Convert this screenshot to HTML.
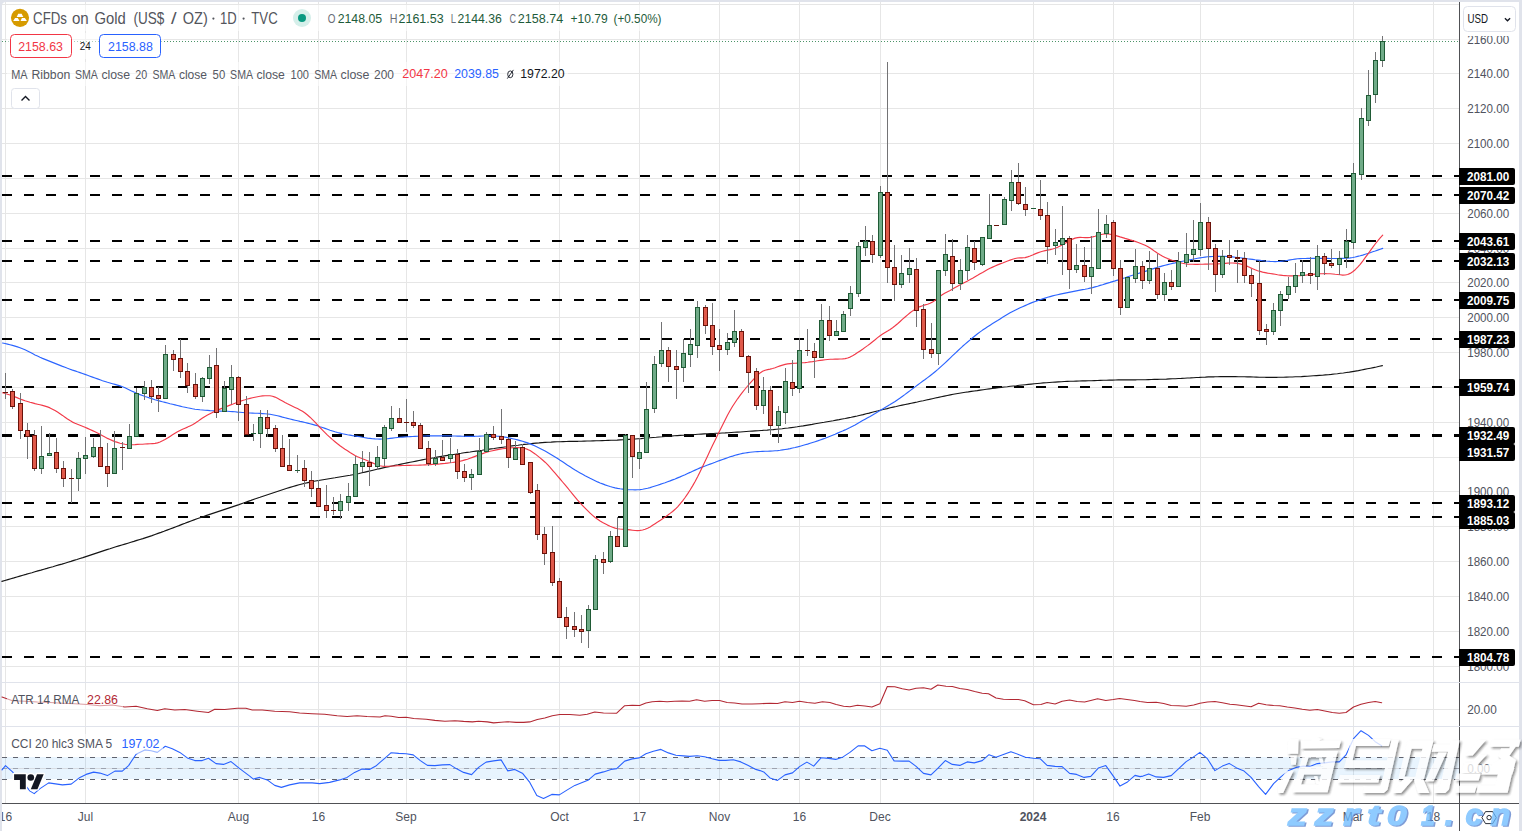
<!DOCTYPE html>
<html><head><meta charset="utf-8"><title>Gold chart</title>
<style>
html,body{margin:0;padding:0;background:#fff;}
body{width:1522px;height:831px;overflow:hidden;position:relative;font-family:"Liberation Sans",sans-serif;}
svg{position:absolute;left:0;top:0;display:block;}
text{font-family:"Liberation Sans",sans-serif;}
</style></head><body>
<svg width="1522" height="831" viewBox="0 0 1522 831">
<rect x="0" y="0" width="1522" height="831" fill="#e0e3eb"/>
<path d="M2 831 V6 a4 4 0 0 1 4 -4 H1515 a4 4 0 0 1 4 4 V831 Z" fill="#fff"/>
<g shape-rendering="crispEdges" stroke="#e6e6e6" stroke-width="1">
<line x1="5.5" y1="2" x2="5.5" y2="803"/><line x1="85.5" y1="2" x2="85.5" y2="803"/><line x1="238.5" y1="2" x2="238.5" y2="803"/><line x1="318.5" y1="2" x2="318.5" y2="803"/><line x1="406.5" y1="2" x2="406.5" y2="803"/><line x1="559.5" y1="2" x2="559.5" y2="803"/><line x1="639.5" y1="2" x2="639.5" y2="803"/><line x1="719.5" y1="2" x2="719.5" y2="803"/><line x1="799.5" y1="2" x2="799.5" y2="803"/><line x1="880.5" y1="2" x2="880.5" y2="803"/><line x1="1033.5" y1="2" x2="1033.5" y2="803"/><line x1="1113.5" y1="2" x2="1113.5" y2="803"/><line x1="1200.5" y1="2" x2="1200.5" y2="803"/><line x1="1353.5" y1="2" x2="1353.5" y2="803"/><line x1="1433.5" y1="2" x2="1433.5" y2="803"/>
<line x1="2" y1="4.5" x2="1459" y2="4.5"/><line x1="2" y1="39.5" x2="1459" y2="39.5"/><line x1="2" y1="73.5" x2="1459" y2="73.5"/><line x1="2" y1="108.5" x2="1459" y2="108.5"/><line x1="2" y1="143.5" x2="1459" y2="143.5"/><line x1="2" y1="178.5" x2="1459" y2="178.5"/><line x1="2" y1="213.5" x2="1459" y2="213.5"/><line x1="2" y1="248.5" x2="1459" y2="248.5"/><line x1="2" y1="282.5" x2="1459" y2="282.5"/><line x1="2" y1="317.5" x2="1459" y2="317.5"/><line x1="2" y1="352.5" x2="1459" y2="352.5"/><line x1="2" y1="387.5" x2="1459" y2="387.5"/><line x1="2" y1="422.5" x2="1459" y2="422.5"/><line x1="2" y1="457.5" x2="1459" y2="457.5"/><line x1="2" y1="491.5" x2="1459" y2="491.5"/><line x1="2" y1="526.5" x2="1459" y2="526.5"/><line x1="2" y1="561.5" x2="1459" y2="561.5"/><line x1="2" y1="596.5" x2="1459" y2="596.5"/><line x1="2" y1="631.5" x2="1459" y2="631.5"/><line x1="2" y1="666.5" x2="1459" y2="666.5"/><line x1="2" y1="709.5" x2="1459" y2="709.5"/>
</g>
<rect x="2" y="757" width="1457" height="22" fill="#2196f3" fill-opacity="0.1" shape-rendering="crispEdges"/>
<line x1="2" y1="768.5" x2="1459" y2="768.5" stroke="#d9dde3" stroke-width="1" shape-rendering="crispEdges"/><g shape-rendering="crispEdges" stroke-width="1" stroke-dasharray="5 6"><line x1="2" y1="757.5" x2="1459" y2="757.5" stroke="#60636e"/><line x1="2" y1="768.5" x2="1459" y2="768.5" stroke="#9ea3b0"/><line x1="2" y1="779.5" x2="1459" y2="779.5" stroke="#60636e"/></g>
<line x1="2" y1="41.5" x2="1459" y2="41.5" stroke="#4c9468" stroke-width="1" stroke-dasharray="1 2" shape-rendering="crispEdges"/>
<g shape-rendering="crispEdges" stroke="#000" stroke-width="2" stroke-dasharray="10 12"><line x1="2" y1="176" x2="1459" y2="176"/><line x1="2" y1="195" x2="1459" y2="195"/><line x1="2" y1="241" x2="1459" y2="241"/><line x1="2" y1="261" x2="1459" y2="261"/><line x1="2" y1="300" x2="1459" y2="300"/><line x1="2" y1="339" x2="1459" y2="339"/><line x1="2" y1="387" x2="1459" y2="387"/><line x1="2" y1="435" x2="1459" y2="435"/><line x1="2" y1="436" x2="1459" y2="436"/><line x1="2" y1="503" x2="1459" y2="503"/><line x1="2" y1="517" x2="1459" y2="517"/><line x1="2" y1="657" x2="1459" y2="657"/></g>
<polyline points="1.9,581.4 4.9,580.5 7.9,579.6 10.9,578.7 13.9,577.9 16.9,577.0 19.9,576.1 22.9,575.2 25.9,574.4 28.9,573.5 31.9,572.7 34.9,571.8 37.9,570.9 40.9,570.1 43.9,569.2 46.9,568.4 49.9,567.5 52.9,566.7 55.9,565.8 58.9,564.9 61.9,564.1 64.9,563.2 67.9,562.3 70.9,561.4 73.9,560.4 76.9,559.5 79.9,558.5 82.9,557.6 85.9,556.6 88.9,555.6 91.9,554.6 94.9,553.6 97.9,552.6 100.9,551.6 103.9,550.6 106.9,549.6 109.9,548.7 112.9,547.7 115.9,546.8 118.9,545.9 121.9,545.0 124.9,544.1 127.9,543.2 130.9,542.3 133.9,541.4 136.9,540.4 139.9,539.5 142.9,538.6 145.9,537.6 149.0,536.6 152.0,535.6 155.0,534.5 158.0,533.4 161.0,532.4 164.0,531.3 167.0,530.1 170.0,529.0 173.0,527.9 176.0,526.7 179.0,525.6 182.0,524.4 185.0,523.3 188.0,522.1 191.0,521.0 194.0,519.9 197.0,518.8 200.0,517.7 203.0,516.7 206.0,515.6 209.0,514.6 212.0,513.6 215.0,512.6 218.0,511.6 221.0,510.6 224.0,509.6 227.0,508.6 230.0,507.6 233.0,506.6 236.0,505.6 239.0,504.6 242.0,503.5 245.0,502.5 248.0,501.4 251.0,500.4 254.0,499.3 257.0,498.3 260.0,497.3 263.0,496.2 266.0,495.2 269.0,494.2 272.0,493.2 275.0,492.2 278.0,491.2 281.0,490.2 284.0,489.2 287.0,488.3 290.0,487.4 293.0,486.5 296.0,485.6 299.0,484.8 302.0,484.0 305.0,483.3 308.0,482.6 311.0,481.9 314.0,481.3 317.0,480.7 320.0,480.2 323.0,479.7 326.0,479.2 329.0,478.7 332.0,478.2 335.0,477.8 338.0,477.3 341.0,476.8 344.0,476.3 347.0,475.8 350.0,475.3 353.0,474.7 356.0,474.1 359.0,473.5 362.0,472.8 365.0,472.1 368.0,471.4 371.0,470.7 374.0,470.0 377.0,469.3 380.0,468.6 383.0,467.9 386.0,467.3 389.0,466.6 392.0,466.0 395.0,465.4 398.0,464.8 401.1,464.1 404.1,463.5 407.1,462.9 410.1,462.3 413.1,461.7 416.1,461.1 419.1,460.5 422.1,459.9 425.1,459.3 428.1,458.8 431.1,458.2 434.1,457.7 437.1,457.1 440.1,456.6 443.1,456.1 446.1,455.6 449.1,455.1 452.1,454.7 455.1,454.2 458.1,453.7 461.1,453.3 464.1,452.8 467.1,452.4 470.1,452.0 473.1,451.5 476.1,451.1 479.1,450.7 482.1,450.3 485.1,449.8 488.1,449.4 491.1,448.9 494.1,448.5 497.1,448.0 500.1,447.6 503.1,447.2 506.1,446.8 509.1,446.3 512.1,445.9 515.1,445.5 518.1,445.2 521.1,444.8 524.1,444.4 527.1,444.1 530.1,443.7 533.1,443.4 536.1,443.1 539.1,442.9 542.1,442.6 545.1,442.4 548.1,442.2 551.1,442.1 554.1,441.9 557.1,441.8 560.1,441.7 563.1,441.6 566.1,441.5 569.1,441.4 572.1,441.4 575.1,441.3 578.1,441.3 581.1,441.2 584.1,441.1 587.1,441.0 590.1,441.0 593.1,440.9 596.1,440.8 599.1,440.7 602.1,440.6 605.1,440.5 608.1,440.4 611.1,440.3 614.1,440.2 617.1,440.1 620.1,439.9 623.1,439.8 626.1,439.6 629.1,439.4 632.1,439.2 635.1,439.0 638.1,438.8 641.1,438.6 644.1,438.3 647.1,438.1 650.1,437.8 653.2,437.5 656.2,437.3 659.2,437.0 662.2,436.8 665.2,436.5 668.2,436.3 671.2,436.1 674.2,435.8 677.2,435.6 680.2,435.4 683.2,435.2 686.2,435.0 689.2,434.8 692.2,434.7 695.2,434.5 698.2,434.3 701.2,434.1 704.2,433.9 707.2,433.8 710.2,433.6 713.2,433.5 716.2,433.3 719.2,433.2 722.2,433.0 725.2,432.9 728.2,432.7 731.2,432.5 734.2,432.3 737.2,432.1 740.2,432.0 743.2,431.7 746.2,431.5 749.2,431.3 752.2,431.1 755.2,430.9 758.2,430.7 761.2,430.5 764.2,430.3 767.2,430.1 770.2,429.8 773.2,429.6 776.2,429.3 779.2,429.0 782.2,428.7 785.2,428.3 788.2,428.0 791.2,427.6 794.2,427.2 797.2,426.8 800.2,426.3 803.2,425.9 806.2,425.4 809.2,424.9 812.2,424.4 815.2,423.8 818.2,423.3 821.2,422.8 824.2,422.3 827.2,421.7 830.2,421.2 833.2,420.7 836.2,420.1 839.2,419.6 842.2,419.0 845.2,418.5 848.2,417.9 851.2,417.3 854.2,416.6 857.2,416.0 860.2,415.3 863.2,414.6 866.2,413.8 869.2,413.1 872.2,412.3 875.2,411.5 878.2,410.8 881.2,410.0 884.2,409.3 887.2,408.6 890.2,407.8 893.2,407.1 896.2,406.5 899.2,405.8 902.2,405.1 905.3,404.5 908.3,403.9 911.3,403.2 914.3,402.6 917.3,402.0 920.3,401.3 923.3,400.7 926.3,400.0 929.3,399.4 932.3,398.7 935.3,398.0 938.3,397.4 941.3,396.7 944.3,396.1 947.3,395.5 950.3,394.9 953.3,394.3 956.3,393.8 959.3,393.3 962.3,392.8 965.3,392.3 968.3,391.9 971.3,391.4 974.3,391.0 977.3,390.6 980.3,390.1 983.3,389.7 986.3,389.3 989.3,388.9 992.3,388.5 995.3,388.1 998.3,387.8 1001.3,387.4 1004.3,387.0 1007.3,386.7 1010.3,386.3 1013.3,386.0 1016.3,385.7 1019.3,385.3 1022.3,385.0 1025.3,384.7 1028.3,384.4 1031.3,384.1 1034.3,383.8 1037.3,383.5 1040.3,383.2 1043.3,382.9 1046.3,382.7 1049.3,382.5 1052.3,382.3 1055.3,382.1 1058.3,381.9 1061.3,381.7 1064.3,381.5 1067.3,381.4 1070.3,381.3 1073.3,381.2 1076.3,381.1 1079.3,381.0 1082.3,380.9 1085.3,380.9 1088.3,380.8 1091.3,380.7 1094.3,380.6 1097.3,380.5 1100.3,380.4 1103.3,380.3 1106.3,380.2 1109.3,380.1 1112.3,380.1 1115.3,380.0 1118.3,379.9 1121.3,379.9 1124.3,379.9 1127.3,379.8 1130.3,379.8 1133.3,379.8 1136.3,379.8 1139.3,379.7 1142.3,379.7 1145.3,379.7 1148.3,379.6 1151.3,379.5 1154.3,379.4 1157.4,379.4 1160.4,379.3 1163.4,379.2 1166.4,379.1 1169.4,378.9 1172.4,378.8 1175.4,378.7 1178.4,378.5 1181.4,378.4 1184.4,378.2 1187.4,378.0 1190.4,377.9 1193.4,377.7 1196.4,377.5 1199.4,377.4 1202.4,377.2 1205.4,377.1 1208.4,376.9 1211.4,376.8 1214.4,376.8 1217.4,376.7 1220.4,376.6 1223.4,376.6 1226.4,376.6 1229.4,376.6 1232.4,376.6 1235.4,376.6 1238.4,376.7 1241.4,376.7 1244.4,376.8 1247.4,376.9 1250.4,376.9 1253.4,377.0 1256.4,377.1 1259.4,377.2 1262.4,377.2 1265.4,377.3 1268.4,377.3 1271.4,377.3 1274.4,377.3 1277.4,377.3 1280.4,377.2 1283.4,377.2 1286.4,377.1 1289.4,377.0 1292.4,377.0 1295.4,376.8 1298.4,376.7 1301.4,376.6 1304.4,376.4 1307.4,376.2 1310.4,376.0 1313.4,375.8 1316.4,375.6 1319.4,375.4 1322.4,375.2 1325.4,374.9 1328.4,374.7 1331.4,374.4 1334.4,374.0 1337.4,373.7 1340.4,373.3 1343.4,373.0 1346.4,372.5 1349.4,372.1 1352.4,371.6 1355.4,371.1 1358.4,370.6 1361.4,370.0 1364.4,369.4 1367.4,368.8 1370.4,368.2 1373.4,367.6 1376.4,367.0 1379.4,366.3 1382.4,365.6" fill="none" stroke="#141414" stroke-width="1.15" stroke-linejoin="round" stroke-linecap="round" />
<polyline points="2.5,343.0 5.0,343.5 7.5,344.1 10.0,344.7 12.5,345.4 15.0,346.1 17.5,346.9 20.0,347.7 22.5,348.7 25.0,349.8 27.5,351.0 30.0,352.3 32.5,353.6 35.0,354.9 37.5,356.1 40.0,357.3 42.5,358.4 45.0,359.4 47.5,360.4 50.0,361.4 52.5,362.4 55.0,363.4 57.5,364.4 60.0,365.4 62.5,366.4 65.0,367.3 67.5,368.3 70.0,369.2 72.5,370.1 75.0,370.9 77.5,371.8 80.0,372.6 82.5,373.5 85.0,374.4 87.5,375.3 90.0,376.2 92.5,377.1 95.0,378.0 97.5,378.9 100.0,379.8 102.5,380.7 105.0,381.5 107.5,382.3 110.0,383.0 112.5,383.7 115.0,384.4 117.5,385.1 120.0,385.9 122.5,386.8 125.0,387.8 127.5,389.0 130.0,390.2 132.5,391.4 135.0,392.5 137.5,393.6 140.0,394.6 142.5,395.5 145.0,396.5 147.5,397.3 150.0,398.1 152.5,398.9 155.0,399.7 157.5,400.4 160.0,401.1 162.5,401.8 165.0,402.4 167.5,403.0 170.0,403.7 172.5,404.3 175.0,404.9 177.5,405.5 180.0,406.1 182.5,406.7 185.0,407.2 187.5,407.8 190.0,408.3 192.5,408.8 195.0,409.2 197.5,409.5 200.0,409.8 202.5,410.0 205.0,410.2 207.5,410.4 210.0,410.6 212.5,410.7 215.0,410.9 217.5,411.0 220.0,411.1 222.5,411.2 225.0,411.2 227.5,411.3 230.0,411.5 232.5,411.6 235.0,411.8 237.5,412.1 240.0,412.3 242.5,412.5 245.0,412.7 247.5,412.9 250.0,413.0 252.5,413.1 255.0,413.2 257.5,413.3 260.0,413.4 262.5,413.6 265.0,413.8 267.5,414.0 270.0,414.3 272.5,414.8 275.0,415.3 277.5,415.8 280.0,416.4 282.5,417.1 285.0,417.7 287.5,418.4 290.0,419.0 292.5,419.6 295.0,420.2 297.5,420.8 300.0,421.4 302.5,421.9 305.0,422.5 307.5,423.1 310.0,423.7 312.5,424.4 315.0,425.1 317.5,425.8 320.0,426.7 322.5,427.5 325.0,428.4 327.5,429.3 330.0,430.2 332.5,431.0 335.0,431.8 337.5,432.5 340.0,433.1 342.5,433.7 345.0,434.2 347.5,434.7 350.0,435.1 352.5,435.6 355.0,436.0 357.5,436.4 360.0,436.8 362.5,437.3 365.0,437.7 367.5,438.1 370.0,438.4 372.5,438.7 375.0,438.9 377.5,439.0 380.0,439.1 382.5,439.0 385.0,438.9 387.5,438.7 390.0,438.4 392.5,438.1 395.0,437.8 397.5,437.5 400.0,437.3 402.5,437.1 405.0,436.9 407.5,436.8 410.0,436.6 412.5,436.5 415.0,436.4 417.5,436.3 420.0,436.2 422.5,436.1 425.0,436.0 427.5,435.9 430.0,435.9 432.5,435.8 435.0,435.8 437.5,435.8 440.0,435.8 442.5,435.8 445.0,435.8 447.5,435.9 450.0,435.9 452.5,436.0 455.0,436.0 457.5,436.1 460.0,436.1 462.5,436.2 465.0,436.3 467.5,436.3 470.0,436.4 472.5,436.3 475.1,436.3 477.6,436.2 480.1,436.1 482.6,436.0 485.1,436.0 487.6,435.9 490.1,435.9 492.6,436.0 495.1,436.0 497.6,436.2 500.1,436.4 502.6,436.7 505.1,437.1 507.6,437.6 510.1,438.1 512.6,438.7 515.1,439.3 517.6,439.9 520.1,440.6 522.6,441.3 525.1,442.1 527.6,442.9 530.1,443.9 532.6,444.9 535.1,446.0 537.6,447.2 540.1,448.4 542.6,449.7 545.1,451.0 547.6,452.4 550.1,453.9 552.6,455.4 555.1,456.9 557.6,458.5 560.1,460.2 562.6,461.8 565.1,463.5 567.6,465.2 570.1,466.8 572.6,468.4 575.1,470.0 577.6,471.5 580.1,472.9 582.6,474.3 585.1,475.7 587.6,477.0 590.1,478.3 592.6,479.5 595.1,480.7 597.6,481.9 600.1,483.0 602.6,483.9 605.1,484.9 607.6,485.7 610.1,486.5 612.6,487.2 615.1,487.9 617.6,488.4 620.1,488.8 622.6,489.1 625.1,489.4 627.6,489.6 630.1,489.7 632.6,489.8 635.1,489.9 637.6,489.8 640.1,489.6 642.6,489.3 645.1,488.8 647.6,488.3 650.1,487.6 652.6,486.8 655.1,486.0 657.6,485.2 660.1,484.4 662.6,483.5 665.1,482.7 667.6,481.8 670.1,480.9 672.6,479.9 675.1,479.0 677.6,477.9 680.1,476.9 682.6,475.8 685.1,474.7 687.6,473.5 690.1,472.4 692.6,471.2 695.1,470.1 697.6,469.0 700.1,467.9 702.6,466.9 705.1,466.0 707.6,465.0 710.1,464.1 712.6,463.2 715.1,462.3 717.6,461.3 720.1,460.4 722.6,459.5 725.1,458.6 727.6,457.7 730.1,456.8 732.6,456.1 735.1,455.3 737.6,454.6 740.1,454.0 742.6,453.4 745.1,453.0 747.6,452.6 750.1,452.2 752.6,452.0 755.1,451.8 757.6,451.6 760.1,451.5 762.6,451.4 765.1,451.3 767.6,451.2 770.1,451.1 772.6,451.0 775.1,450.8 777.6,450.6 780.1,450.3 782.6,449.9 785.1,449.5 787.6,449.1 790.1,448.6 792.6,448.0 795.1,447.5 797.6,446.9 800.1,446.2 802.6,445.5 805.1,444.8 807.6,444.1 810.1,443.3 812.6,442.5 815.1,441.7 817.6,440.9 820.1,440.0 822.6,439.1 825.1,438.2 827.6,437.2 830.1,436.2 832.6,435.2 835.1,434.2 837.6,433.1 840.1,432.0 842.6,431.0 845.1,429.9 847.6,428.7 850.1,427.5 852.6,426.2 855.1,424.9 857.6,423.5 860.1,422.1 862.6,420.6 865.1,419.2 867.6,417.8 870.1,416.4 872.6,414.9 875.1,413.5 877.6,412.0 880.1,410.6 882.6,409.1 885.1,407.6 887.6,406.1 890.1,404.6 892.6,403.0 895.1,401.4 897.6,399.7 900.1,398.0 902.6,396.2 905.1,394.4 907.6,392.5 910.1,390.6 912.6,388.8 915.1,386.9 917.6,385.0 920.1,383.1 922.6,381.3 925.1,379.5 927.6,377.6 930.1,375.7 932.6,373.8 935.1,371.7 937.6,369.6 940.1,367.4 942.6,365.1 945.1,362.8 947.6,360.5 950.1,358.1 952.6,355.7 955.1,353.3 957.6,351.0 960.1,348.6 962.6,346.3 965.1,344.1 967.6,342.0 970.1,339.9 972.6,337.8 975.1,335.8 977.6,333.8 980.1,331.9 982.6,330.1 985.1,328.4 987.6,326.8 990.1,325.2 992.6,323.6 995.1,322.0 997.6,320.5 1000.1,318.9 1002.6,317.3 1005.1,315.8 1007.6,314.3 1010.1,312.8 1012.6,311.4 1015.1,310.2 1017.6,309.0 1020.1,307.8 1022.6,306.7 1025.1,305.6 1027.6,304.5 1030.1,303.4 1032.6,302.4 1035.1,301.5 1037.6,300.6 1040.1,299.7 1042.6,298.9 1045.1,298.1 1047.6,297.3 1050.1,296.6 1052.6,295.9 1055.1,295.3 1057.6,294.7 1060.1,294.1 1062.6,293.6 1065.1,293.1 1067.6,292.6 1070.1,292.1 1072.6,291.6 1075.1,291.1 1077.6,290.6 1080.1,290.1 1082.6,289.6 1085.1,289.2 1087.6,288.7 1090.1,288.1 1092.6,287.6 1095.1,286.9 1097.6,286.2 1100.1,285.4 1102.6,284.7 1105.1,283.9 1107.6,283.1 1110.1,282.4 1112.6,281.6 1115.1,280.9 1117.6,280.1 1120.1,279.3 1122.6,278.5 1125.1,277.7 1127.6,276.8 1130.1,276.0 1132.6,275.2 1135.1,274.5 1137.6,273.7 1140.1,272.9 1142.6,272.2 1145.1,271.4 1147.6,270.6 1150.1,269.8 1152.6,268.9 1155.1,268.1 1157.6,267.3 1160.1,266.6 1162.6,265.9 1165.1,265.2 1167.6,264.6 1170.1,264.0 1172.6,263.4 1175.1,262.9 1177.6,262.3 1180.1,261.8 1182.6,261.3 1185.1,260.8 1187.6,260.3 1190.1,259.8 1192.6,259.3 1195.1,258.8 1197.6,258.3 1200.1,257.9 1202.6,257.5 1205.1,257.1 1207.6,256.8 1210.1,256.6 1212.6,256.5 1215.1,256.4 1217.6,256.3 1220.1,256.3 1222.6,256.3 1225.1,256.4 1227.6,256.5 1230.1,256.7 1232.6,256.9 1235.1,257.2 1237.6,257.5 1240.1,257.8 1242.6,258.1 1245.1,258.4 1247.6,258.8 1250.1,259.1 1252.6,259.4 1255.1,259.8 1257.6,260.1 1260.1,260.4 1262.6,260.7 1265.1,261.0 1267.6,261.2 1270.1,261.4 1272.6,261.5 1275.1,261.6 1277.6,261.5 1280.1,261.4 1282.6,261.1 1285.1,260.8 1287.6,260.4 1290.1,259.9 1292.6,259.5 1295.1,259.1 1297.6,258.8 1300.1,258.6 1302.6,258.5 1305.2,258.5 1307.7,258.4 1310.2,258.4 1312.7,258.3 1315.2,258.3 1317.7,258.3 1320.2,258.3 1322.7,258.3 1325.2,258.4 1327.7,258.4 1330.2,258.5 1332.7,258.5 1335.2,258.5 1337.7,258.5 1340.2,258.4 1342.7,258.4 1345.2,258.3 1347.7,258.1 1350.2,257.9 1352.7,257.5 1355.2,257.0 1357.7,256.4 1360.2,255.8 1362.7,255.1 1365.2,254.3 1367.7,253.5 1370.2,252.7 1372.7,251.8 1375.2,251.0 1377.7,250.1 1380.2,249.2 1382.7,248.4" fill="none" stroke="#2c65ff" stroke-width="1.15" stroke-linejoin="round" stroke-linecap="round" />
<polyline points="2.5,392.8 5.0,393.5 7.5,394.2 10.0,395.0 12.5,395.9 15.0,396.9 17.5,397.9 20.0,399.0 22.5,399.9 25.0,400.8 27.5,401.5 30.0,402.3 32.5,402.9 35.0,403.6 37.5,404.2 40.0,404.8 42.5,405.4 45.0,406.1 47.5,406.9 50.0,407.9 52.5,409.2 55.0,410.6 57.5,412.1 60.0,413.7 62.5,415.4 65.0,417.2 67.5,419.0 70.0,420.6 72.5,422.1 75.0,423.2 77.5,424.2 80.0,425.2 82.5,426.2 85.0,427.3 87.5,428.4 90.0,429.5 92.5,430.6 95.0,431.7 97.5,432.9 100.0,434.3 102.5,435.7 105.0,437.1 107.5,438.4 110.0,439.5 112.5,440.6 115.0,441.6 117.5,442.4 120.0,443.2 122.5,443.8 125.0,444.3 127.5,444.7 130.0,444.8 132.5,444.7 135.0,444.6 137.5,444.4 140.0,444.3 142.5,444.2 145.0,444.0 147.5,443.9 150.0,443.8 152.5,443.6 155.0,443.4 157.5,442.9 160.0,442.0 162.5,440.8 165.0,439.5 167.5,438.0 170.0,436.4 172.5,434.8 175.0,433.3 177.5,431.8 180.0,430.5 182.5,429.3 185.0,428.2 187.5,427.1 190.0,425.9 192.5,424.7 195.0,423.2 197.5,421.6 200.0,419.8 202.5,418.0 205.0,416.4 207.5,415.0 210.0,413.7 212.5,412.4 215.0,411.3 217.5,410.2 220.0,409.1 222.5,408.1 225.0,407.1 227.5,406.1 230.0,405.1 232.5,404.2 235.0,403.2 237.5,402.3 240.0,401.4 242.5,400.5 245.0,399.8 247.5,399.0 250.0,398.4 252.5,397.8 255.0,397.2 257.5,396.7 260.0,396.3 262.5,395.9 265.0,395.7 267.5,395.7 270.0,395.8 272.5,396.3 275.0,397.1 277.5,398.3 280.0,399.7 282.5,401.1 285.0,402.5 287.5,403.8 290.0,405.0 292.5,406.2 295.0,407.4 297.5,408.6 300.0,409.9 302.5,411.3 305.0,413.0 307.5,415.0 310.0,417.2 312.5,419.6 315.0,422.2 317.5,424.9 320.0,427.5 322.5,430.1 325.0,432.6 327.5,435.1 330.0,437.4 332.5,439.6 335.0,441.7 337.5,443.8 340.0,445.7 342.5,447.5 345.0,449.2 347.5,450.8 350.0,452.5 352.5,454.0 355.0,455.5 357.5,456.7 360.0,457.8 362.5,458.8 365.0,459.8 367.5,460.8 370.0,461.9 372.5,462.9 375.0,464.0 377.5,465.0 380.0,465.8 382.5,466.2 385.0,466.4 387.5,466.3 390.0,466.2 392.5,466.0 395.0,465.9 397.5,465.7 400.0,465.6 402.5,465.5 405.0,465.5 407.5,465.4 410.0,465.4 412.5,465.3 415.0,465.2 417.5,465.2 420.0,465.1 422.5,465.0 425.0,464.9 427.5,464.8 430.0,464.6 432.5,464.4 435.0,464.3 437.5,464.1 440.0,463.9 442.5,463.6 445.0,463.4 447.5,463.1 450.0,462.8 452.5,462.5 455.0,462.1 457.5,461.7 460.0,461.2 462.5,460.6 465.0,459.9 467.5,459.2 470.0,458.3 472.5,457.4 475.1,456.4 477.6,455.4 480.1,454.5 482.6,453.6 485.1,452.7 487.6,452.0 490.1,451.3 492.6,450.7 495.1,450.1 497.6,449.6 500.1,449.1 502.6,448.7 505.1,448.4 507.6,448.1 510.1,447.9 512.6,447.7 515.1,447.6 517.6,447.6 520.1,447.7 522.6,448.0 525.1,448.5 527.6,449.4 530.1,450.6 532.6,452.2 535.1,453.9 537.6,455.9 540.1,457.9 542.6,460.0 545.1,462.2 547.6,464.7 550.1,467.4 552.6,470.3 555.1,473.2 557.6,476.1 560.1,479.0 562.6,482.0 565.1,484.9 567.6,487.9 570.1,491.0 572.6,494.1 575.1,497.1 577.6,500.1 580.1,502.9 582.6,505.6 585.1,508.2 587.6,510.7 590.1,513.1 592.6,515.4 595.1,517.5 597.6,519.3 600.1,521.0 602.6,522.5 605.1,523.8 607.6,525.1 610.1,526.2 612.6,527.2 615.1,528.1 617.6,528.7 620.1,529.0 622.6,529.2 625.1,529.4 627.6,529.6 630.1,529.9 632.6,530.2 635.1,530.5 637.6,530.6 640.1,530.4 642.6,530.0 645.1,529.3 647.6,528.2 650.1,526.9 652.6,525.3 655.1,523.7 657.6,522.1 660.1,520.4 662.6,518.8 665.1,517.1 667.6,515.3 670.1,513.4 672.6,511.5 675.1,509.3 677.6,506.8 680.1,503.9 682.6,500.8 685.1,497.5 687.6,493.9 690.1,490.0 692.6,485.9 695.1,481.5 697.6,476.8 700.1,471.8 702.6,466.6 705.1,461.3 707.6,455.9 710.1,450.5 712.6,445.3 715.1,440.2 717.6,435.1 720.1,430.0 722.6,424.9 725.1,419.9 727.6,415.0 730.1,410.5 732.6,406.3 735.1,402.5 737.6,398.8 740.1,395.4 742.6,392.1 745.1,389.0 747.6,386.0 750.1,383.1 752.6,380.3 755.1,377.6 757.6,375.0 760.1,372.9 762.6,371.3 765.1,370.2 767.6,369.6 770.1,369.1 772.6,368.5 775.1,367.7 777.6,366.8 780.1,365.9 782.6,365.1 785.1,364.4 787.6,363.9 790.1,363.6 792.6,363.4 795.1,363.2 797.6,363.1 800.1,363.0 802.6,362.8 805.1,362.6 807.6,362.3 810.1,361.9 812.6,361.6 815.1,361.2 817.6,360.8 820.1,360.4 822.6,360.1 825.1,359.8 827.6,359.5 830.1,359.3 832.6,359.2 835.1,359.1 837.6,359.1 840.1,359.0 842.6,358.9 845.1,358.6 847.6,358.0 850.1,357.1 852.6,355.8 855.1,354.3 857.6,352.6 860.1,350.9 862.6,349.2 865.1,347.4 867.6,345.6 870.1,343.7 872.6,341.7 875.1,339.7 877.6,337.6 880.1,335.7 882.6,334.0 885.1,332.5 887.6,331.0 890.1,329.4 892.6,327.7 895.1,325.8 897.6,323.7 900.1,321.5 902.6,319.2 905.1,317.0 907.6,314.9 910.1,312.8 912.6,310.9 915.1,309.2 917.6,307.8 920.1,306.6 922.6,305.7 925.1,304.9 927.6,304.2 930.1,303.3 932.6,301.9 935.1,300.2 937.6,298.2 940.1,296.3 942.6,294.6 945.1,293.1 947.6,291.7 950.1,290.4 952.6,289.0 955.1,287.6 957.6,286.2 960.1,284.8 962.6,283.5 965.1,282.2 967.6,280.9 970.1,279.6 972.6,278.2 975.1,276.7 977.6,275.3 980.1,273.8 982.6,272.4 985.1,270.9 987.6,269.5 990.1,268.2 992.6,267.1 995.1,266.0 997.6,264.9 1000.1,263.9 1002.6,263.0 1005.1,262.0 1007.6,261.0 1010.1,260.1 1012.6,259.3 1015.1,258.5 1017.6,258.0 1020.1,257.8 1022.6,257.8 1025.1,257.6 1027.6,256.9 1030.1,256.0 1032.6,255.0 1035.1,253.9 1037.6,252.9 1040.1,252.0 1042.6,251.3 1045.1,250.6 1047.6,250.1 1050.1,249.6 1052.6,249.0 1055.1,248.3 1057.6,247.3 1060.1,246.1 1062.6,244.8 1065.1,243.3 1067.6,241.9 1070.1,240.4 1072.6,239.1 1075.1,238.1 1077.6,237.6 1080.1,237.4 1082.6,237.5 1085.1,237.6 1087.6,237.6 1090.1,237.4 1092.6,236.9 1095.1,236.2 1097.6,235.4 1100.1,234.8 1102.6,234.2 1105.1,233.9 1107.6,233.9 1110.1,234.2 1112.6,234.7 1115.1,235.4 1117.6,236.1 1120.1,236.9 1122.6,237.6 1125.1,238.4 1127.6,239.1 1130.1,239.9 1132.6,240.6 1135.1,241.4 1137.6,242.3 1140.1,243.2 1142.6,244.2 1145.1,245.3 1147.6,246.6 1150.1,248.1 1152.6,249.8 1155.1,251.6 1157.6,253.3 1160.1,254.8 1162.6,256.2 1165.1,257.4 1167.6,258.6 1170.1,259.6 1172.6,260.5 1175.1,261.3 1177.6,262.1 1180.1,262.7 1182.6,263.3 1185.1,263.8 1187.6,264.1 1190.1,264.2 1192.6,264.3 1195.1,264.4 1197.6,264.4 1200.1,264.3 1202.6,264.2 1205.1,264.1 1207.6,264.1 1210.1,264.0 1212.6,264.0 1215.1,264.0 1217.6,263.9 1220.1,263.8 1222.6,263.6 1225.1,263.4 1227.6,263.1 1230.1,263.0 1232.6,263.0 1235.1,263.1 1237.6,263.4 1240.1,263.9 1242.6,264.6 1245.1,265.4 1247.6,266.4 1250.1,267.6 1252.6,268.7 1255.1,269.8 1257.6,270.7 1260.1,271.4 1262.6,272.1 1265.1,272.6 1267.6,273.1 1270.1,273.5 1272.6,273.9 1275.1,274.3 1277.6,274.8 1280.1,275.1 1282.6,275.4 1285.1,275.6 1287.6,275.8 1290.1,275.8 1292.6,275.9 1295.1,275.8 1297.6,275.7 1300.1,275.6 1302.6,275.4 1305.2,275.2 1307.7,274.9 1310.2,274.7 1312.7,274.4 1315.2,274.1 1317.7,273.9 1320.2,273.8 1322.7,273.7 1325.2,273.6 1327.7,273.7 1330.2,273.8 1332.7,274.0 1335.2,274.3 1337.7,274.5 1340.2,274.8 1342.7,275.1 1345.2,275.0 1347.7,274.5 1350.2,273.4 1352.7,271.8 1355.2,269.7 1357.7,267.2 1360.2,264.3 1362.7,261.1 1365.2,257.7 1367.7,254.3 1370.2,250.8 1372.7,247.4 1375.2,244.0 1377.7,240.8 1380.2,237.9 1382.7,235.2" fill="none" stroke="#f23a49" stroke-width="1.15" stroke-linejoin="round" stroke-linecap="round" />
<g shape-rendering="crispEdges">
<rect x="5" y="373" width="1" height="26" fill="#737375"/><rect x="3" y="392" width="5" height="1" fill="#69120a"/>
<rect x="12" y="389" width="1" height="20" fill="#737375"/><rect x="10" y="391" width="5" height="16" fill="#69120a"/><rect x="11" y="392" width="3" height="14" fill="#e0594a"/>
<rect x="20" y="393" width="1" height="46" fill="#737375"/><rect x="18" y="403" width="5" height="28" fill="#69120a"/><rect x="19" y="404" width="3" height="26" fill="#e0594a"/>
<rect x="27" y="423" width="1" height="36" fill="#737375"/><rect x="25" y="430" width="5" height="7" fill="#69120a"/><rect x="26" y="431" width="3" height="5" fill="#e0594a"/>
<rect x="34" y="430" width="1" height="41" fill="#737375"/><rect x="32" y="435" width="5" height="34" fill="#69120a"/><rect x="33" y="436" width="3" height="32" fill="#e0594a"/>
<rect x="41" y="426" width="1" height="48" fill="#737375"/><rect x="39" y="456" width="5" height="13" fill="#1f5a35"/><rect x="40" y="457" width="3" height="11" fill="#70ab88"/>
<rect x="49" y="433" width="1" height="23" fill="#737375"/><rect x="47" y="453" width="5" height="3" fill="#1f5a35"/><rect x="48" y="454" width="3" height="1" fill="#70ab88"/>
<rect x="56" y="438" width="1" height="35" fill="#737375"/><rect x="54" y="452" width="5" height="17" fill="#69120a"/><rect x="55" y="453" width="3" height="15" fill="#e0594a"/>
<rect x="63" y="461" width="1" height="26" fill="#737375"/><rect x="61" y="468" width="5" height="11" fill="#69120a"/><rect x="62" y="469" width="3" height="9" fill="#e0594a"/>
<rect x="71" y="469" width="1" height="34" fill="#737375"/><rect x="69" y="478" width="5" height="1" fill="#69120a"/>
<rect x="78" y="452" width="1" height="39" fill="#737375"/><rect x="76" y="458" width="5" height="21" fill="#1f5a35"/><rect x="77" y="459" width="3" height="19" fill="#70ab88"/>
<rect x="85" y="437" width="1" height="37" fill="#737375"/><rect x="83" y="455" width="5" height="4" fill="#1f5a35"/><rect x="84" y="456" width="3" height="2" fill="#70ab88"/>
<rect x="93" y="438" width="1" height="20" fill="#737375"/><rect x="91" y="447" width="5" height="10" fill="#1f5a35"/><rect x="92" y="448" width="3" height="8" fill="#70ab88"/>
<rect x="100" y="430" width="1" height="37" fill="#737375"/><rect x="98" y="447" width="5" height="20" fill="#69120a"/><rect x="99" y="448" width="3" height="18" fill="#e0594a"/>
<rect x="107" y="443" width="1" height="44" fill="#737375"/><rect x="105" y="466" width="5" height="8" fill="#69120a"/><rect x="106" y="467" width="3" height="6" fill="#e0594a"/>
<rect x="114" y="431" width="1" height="43" fill="#737375"/><rect x="112" y="448" width="5" height="26" fill="#1f5a35"/><rect x="113" y="449" width="3" height="24" fill="#70ab88"/>
<rect x="122" y="442" width="1" height="28" fill="#737375"/><rect x="120" y="447" width="5" height="1" fill="#69120a"/>
<rect x="129" y="424" width="1" height="25" fill="#737375"/><rect x="127" y="436" width="5" height="13" fill="#1f5a35"/><rect x="128" y="437" width="3" height="11" fill="#70ab88"/>
<rect x="136" y="388" width="1" height="49" fill="#737375"/><rect x="134" y="393" width="5" height="44" fill="#1f5a35"/><rect x="135" y="394" width="3" height="42" fill="#70ab88"/>
<rect x="144" y="381" width="1" height="19" fill="#737375"/><rect x="142" y="387" width="5" height="7" fill="#1f5a35"/><rect x="143" y="388" width="3" height="5" fill="#70ab88"/>
<rect x="151" y="380" width="1" height="23" fill="#737375"/><rect x="149" y="387" width="5" height="10" fill="#69120a"/><rect x="150" y="388" width="3" height="8" fill="#e0594a"/>
<rect x="158" y="387" width="1" height="25" fill="#737375"/><rect x="156" y="395" width="5" height="4" fill="#69120a"/><rect x="157" y="396" width="3" height="2" fill="#e0594a"/>
<rect x="165" y="345" width="1" height="54" fill="#737375"/><rect x="163" y="354" width="5" height="45" fill="#1f5a35"/><rect x="164" y="355" width="3" height="43" fill="#70ab88"/>
<rect x="173" y="350" width="1" height="21" fill="#737375"/><rect x="171" y="354" width="5" height="6" fill="#69120a"/><rect x="172" y="355" width="3" height="4" fill="#e0594a"/>
<rect x="180" y="339" width="1" height="39" fill="#737375"/><rect x="178" y="358" width="5" height="14" fill="#69120a"/><rect x="179" y="359" width="3" height="12" fill="#e0594a"/>
<rect x="187" y="363" width="1" height="30" fill="#737375"/><rect x="185" y="371" width="5" height="15" fill="#69120a"/><rect x="186" y="372" width="3" height="13" fill="#e0594a"/>
<rect x="195" y="373" width="1" height="26" fill="#737375"/><rect x="193" y="384" width="5" height="13" fill="#69120a"/><rect x="194" y="385" width="3" height="11" fill="#e0594a"/>
<rect x="202" y="377" width="1" height="25" fill="#737375"/><rect x="200" y="378" width="5" height="19" fill="#1f5a35"/><rect x="201" y="379" width="3" height="17" fill="#70ab88"/>
<rect x="209" y="355" width="1" height="29" fill="#737375"/><rect x="207" y="367" width="5" height="12" fill="#1f5a35"/><rect x="208" y="368" width="3" height="10" fill="#70ab88"/>
<rect x="216" y="348" width="1" height="70" fill="#737375"/><rect x="214" y="365" width="5" height="48" fill="#69120a"/><rect x="215" y="366" width="3" height="46" fill="#e0594a"/>
<rect x="224" y="381" width="1" height="31" fill="#737375"/><rect x="222" y="388" width="5" height="24" fill="#1f5a35"/><rect x="223" y="389" width="3" height="22" fill="#70ab88"/>
<rect x="231" y="365" width="1" height="39" fill="#737375"/><rect x="229" y="377" width="5" height="13" fill="#1f5a35"/><rect x="230" y="378" width="3" height="11" fill="#70ab88"/>
<rect x="238" y="376" width="1" height="45" fill="#737375"/><rect x="236" y="377" width="5" height="28" fill="#69120a"/><rect x="237" y="378" width="3" height="26" fill="#e0594a"/>
<rect x="246" y="396" width="1" height="39" fill="#737375"/><rect x="244" y="404" width="5" height="31" fill="#69120a"/><rect x="245" y="405" width="3" height="29" fill="#e0594a"/>
<rect x="253" y="424" width="1" height="17" fill="#737375"/><rect x="251" y="433" width="5" height="1" fill="#1f5a35"/>
<rect x="260" y="410" width="1" height="38" fill="#737375"/><rect x="258" y="417" width="5" height="17" fill="#1f5a35"/><rect x="259" y="418" width="3" height="15" fill="#70ab88"/>
<rect x="267" y="410" width="1" height="27" fill="#737375"/><rect x="265" y="417" width="5" height="12" fill="#69120a"/><rect x="266" y="418" width="3" height="10" fill="#e0594a"/>
<rect x="275" y="425" width="1" height="27" fill="#737375"/><rect x="273" y="428" width="5" height="21" fill="#69120a"/><rect x="274" y="429" width="3" height="19" fill="#e0594a"/>
<rect x="282" y="435" width="1" height="32" fill="#737375"/><rect x="280" y="448" width="5" height="19" fill="#69120a"/><rect x="281" y="449" width="3" height="17" fill="#e0594a"/>
<rect x="289" y="439" width="1" height="32" fill="#737375"/><rect x="287" y="465" width="5" height="6" fill="#69120a"/><rect x="288" y="466" width="3" height="4" fill="#e0594a"/>
<rect x="297" y="455" width="1" height="18" fill="#737375"/><rect x="295" y="470" width="5" height="1" fill="#1f5a35"/>
<rect x="304" y="460" width="1" height="27" fill="#737375"/><rect x="302" y="468" width="5" height="13" fill="#69120a"/><rect x="303" y="469" width="3" height="11" fill="#e0594a"/>
<rect x="311" y="471" width="1" height="26" fill="#737375"/><rect x="309" y="480" width="5" height="9" fill="#69120a"/><rect x="310" y="481" width="3" height="7" fill="#e0594a"/>
<rect x="318" y="480" width="1" height="27" fill="#737375"/><rect x="316" y="488" width="5" height="19" fill="#69120a"/><rect x="317" y="489" width="3" height="17" fill="#e0594a"/>
<rect x="326" y="485" width="1" height="33" fill="#737375"/><rect x="324" y="505" width="5" height="6" fill="#69120a"/><rect x="325" y="506" width="3" height="4" fill="#e0594a"/>
<rect x="333" y="497" width="1" height="18" fill="#737375"/><rect x="331" y="510" width="5" height="1" fill="#69120a"/>
<rect x="340" y="494" width="1" height="25" fill="#737375"/><rect x="338" y="501" width="5" height="10" fill="#1f5a35"/><rect x="339" y="502" width="3" height="8" fill="#70ab88"/>
<rect x="348" y="483" width="1" height="28" fill="#737375"/><rect x="346" y="496" width="5" height="7" fill="#1f5a35"/><rect x="347" y="497" width="3" height="5" fill="#70ab88"/>
<rect x="355" y="456" width="1" height="41" fill="#737375"/><rect x="353" y="464" width="5" height="33" fill="#1f5a35"/><rect x="354" y="465" width="3" height="31" fill="#70ab88"/>
<rect x="362" y="451" width="1" height="21" fill="#737375"/><rect x="360" y="462" width="5" height="5" fill="#1f5a35"/><rect x="361" y="463" width="3" height="3" fill="#70ab88"/>
<rect x="369" y="452" width="1" height="34" fill="#737375"/><rect x="367" y="462" width="5" height="5" fill="#69120a"/><rect x="368" y="463" width="3" height="3" fill="#e0594a"/>
<rect x="377" y="446" width="1" height="24" fill="#737375"/><rect x="375" y="457" width="5" height="10" fill="#1f5a35"/><rect x="376" y="458" width="3" height="8" fill="#70ab88"/>
<rect x="384" y="425" width="1" height="41" fill="#737375"/><rect x="382" y="427" width="5" height="32" fill="#1f5a35"/><rect x="383" y="428" width="3" height="30" fill="#70ab88"/>
<rect x="391" y="406" width="1" height="25" fill="#737375"/><rect x="389" y="418" width="5" height="11" fill="#1f5a35"/><rect x="390" y="419" width="3" height="9" fill="#70ab88"/>
<rect x="399" y="408" width="1" height="15" fill="#737375"/><rect x="397" y="418" width="5" height="5" fill="#69120a"/><rect x="398" y="419" width="3" height="3" fill="#e0594a"/>
<rect x="406" y="399" width="1" height="33" fill="#737375"/><rect x="404" y="422" width="5" height="1" fill="#69120a"/>
<rect x="413" y="411" width="1" height="17" fill="#737375"/><rect x="411" y="422" width="5" height="4" fill="#69120a"/><rect x="412" y="423" width="3" height="2" fill="#e0594a"/>
<rect x="420" y="423" width="1" height="26" fill="#737375"/><rect x="418" y="425" width="5" height="24" fill="#69120a"/><rect x="419" y="426" width="3" height="22" fill="#e0594a"/>
<rect x="428" y="441" width="1" height="25" fill="#737375"/><rect x="426" y="448" width="5" height="16" fill="#69120a"/><rect x="427" y="449" width="3" height="14" fill="#e0594a"/>
<rect x="435" y="450" width="1" height="16" fill="#737375"/><rect x="433" y="458" width="5" height="6" fill="#1f5a35"/><rect x="434" y="459" width="3" height="4" fill="#70ab88"/>
<rect x="442" y="440" width="1" height="21" fill="#737375"/><rect x="440" y="457" width="5" height="4" fill="#69120a"/><rect x="441" y="458" width="3" height="2" fill="#e0594a"/>
<rect x="450" y="438" width="1" height="25" fill="#737375"/><rect x="448" y="454" width="5" height="5" fill="#1f5a35"/><rect x="449" y="455" width="3" height="3" fill="#70ab88"/>
<rect x="457" y="449" width="1" height="30" fill="#737375"/><rect x="455" y="454" width="5" height="18" fill="#69120a"/><rect x="456" y="455" width="3" height="16" fill="#e0594a"/>
<rect x="464" y="464" width="1" height="18" fill="#737375"/><rect x="462" y="471" width="5" height="7" fill="#69120a"/><rect x="463" y="472" width="3" height="5" fill="#e0594a"/>
<rect x="471" y="469" width="1" height="21" fill="#737375"/><rect x="469" y="474" width="5" height="4" fill="#1f5a35"/><rect x="470" y="475" width="3" height="2" fill="#70ab88"/>
<rect x="479" y="438" width="1" height="37" fill="#737375"/><rect x="477" y="451" width="5" height="24" fill="#1f5a35"/><rect x="478" y="452" width="3" height="22" fill="#70ab88"/>
<rect x="486" y="432" width="1" height="20" fill="#737375"/><rect x="484" y="434" width="5" height="18" fill="#1f5a35"/><rect x="485" y="435" width="3" height="16" fill="#70ab88"/>
<rect x="493" y="426" width="1" height="14" fill="#737375"/><rect x="491" y="434" width="5" height="4" fill="#69120a"/><rect x="492" y="435" width="3" height="2" fill="#e0594a"/>
<rect x="501" y="409" width="1" height="35" fill="#737375"/><rect x="499" y="436" width="5" height="4" fill="#69120a"/><rect x="500" y="437" width="3" height="2" fill="#e0594a"/>
<rect x="508" y="437" width="1" height="31" fill="#737375"/><rect x="506" y="439" width="5" height="19" fill="#69120a"/><rect x="507" y="440" width="3" height="17" fill="#e0594a"/>
<rect x="515" y="441" width="1" height="19" fill="#737375"/><rect x="513" y="448" width="5" height="12" fill="#1f5a35"/><rect x="514" y="449" width="3" height="10" fill="#70ab88"/>
<rect x="522" y="444" width="1" height="21" fill="#737375"/><rect x="520" y="447" width="5" height="18" fill="#69120a"/><rect x="521" y="448" width="3" height="16" fill="#e0594a"/>
<rect x="530" y="462" width="1" height="32" fill="#737375"/><rect x="528" y="462" width="5" height="31" fill="#69120a"/><rect x="529" y="463" width="3" height="29" fill="#e0594a"/>
<rect x="537" y="484" width="1" height="56" fill="#737375"/><rect x="535" y="490" width="5" height="45" fill="#69120a"/><rect x="536" y="491" width="3" height="43" fill="#e0594a"/>
<rect x="544" y="527" width="1" height="38" fill="#737375"/><rect x="542" y="534" width="5" height="20" fill="#69120a"/><rect x="543" y="535" width="3" height="18" fill="#e0594a"/>
<rect x="552" y="526" width="1" height="60" fill="#737375"/><rect x="550" y="552" width="5" height="31" fill="#69120a"/><rect x="551" y="553" width="3" height="29" fill="#e0594a"/>
<rect x="559" y="578" width="1" height="40" fill="#737375"/><rect x="557" y="581" width="5" height="37" fill="#69120a"/><rect x="558" y="582" width="3" height="35" fill="#e0594a"/>
<rect x="566" y="607" width="1" height="32" fill="#737375"/><rect x="564" y="617" width="5" height="10" fill="#69120a"/><rect x="565" y="618" width="3" height="8" fill="#e0594a"/>
<rect x="574" y="612" width="1" height="25" fill="#737375"/><rect x="572" y="626" width="5" height="4" fill="#69120a"/><rect x="573" y="627" width="3" height="2" fill="#e0594a"/>
<rect x="581" y="615" width="1" height="28" fill="#737375"/><rect x="579" y="629" width="5" height="3" fill="#69120a"/><rect x="580" y="630" width="3" height="1" fill="#e0594a"/>
<rect x="588" y="605" width="1" height="43" fill="#737375"/><rect x="586" y="609" width="5" height="22" fill="#1f5a35"/><rect x="587" y="610" width="3" height="20" fill="#70ab88"/>
<rect x="595" y="555" width="1" height="55" fill="#737375"/><rect x="593" y="559" width="5" height="51" fill="#1f5a35"/><rect x="594" y="560" width="3" height="49" fill="#70ab88"/>
<rect x="603" y="552" width="1" height="22" fill="#737375"/><rect x="601" y="559" width="5" height="4" fill="#69120a"/><rect x="602" y="560" width="3" height="2" fill="#e0594a"/>
<rect x="610" y="531" width="1" height="32" fill="#737375"/><rect x="608" y="536" width="5" height="26" fill="#1f5a35"/><rect x="609" y="537" width="3" height="24" fill="#70ab88"/>
<rect x="617" y="517" width="1" height="30" fill="#737375"/><rect x="615" y="536" width="5" height="11" fill="#69120a"/><rect x="616" y="537" width="3" height="9" fill="#e0594a"/>
<rect x="625" y="434" width="1" height="113" fill="#737375"/><rect x="623" y="435" width="5" height="112" fill="#1f5a35"/><rect x="624" y="436" width="3" height="110" fill="#70ab88"/>
<rect x="632" y="435" width="1" height="43" fill="#737375"/><rect x="630" y="435" width="5" height="22" fill="#69120a"/><rect x="631" y="436" width="3" height="20" fill="#e0594a"/>
<rect x="639" y="438" width="1" height="31" fill="#737375"/><rect x="637" y="452" width="5" height="7" fill="#1f5a35"/><rect x="638" y="453" width="3" height="5" fill="#70ab88"/>
<rect x="646" y="382" width="1" height="71" fill="#737375"/><rect x="644" y="409" width="5" height="44" fill="#1f5a35"/><rect x="645" y="410" width="3" height="42" fill="#70ab88"/>
<rect x="654" y="356" width="1" height="57" fill="#737375"/><rect x="652" y="364" width="5" height="45" fill="#1f5a35"/><rect x="653" y="365" width="3" height="43" fill="#70ab88"/>
<rect x="661" y="322" width="1" height="45" fill="#737375"/><rect x="659" y="350" width="5" height="14" fill="#1f5a35"/><rect x="660" y="351" width="3" height="12" fill="#70ab88"/>
<rect x="668" y="347" width="1" height="35" fill="#737375"/><rect x="666" y="350" width="5" height="17" fill="#69120a"/><rect x="667" y="351" width="3" height="15" fill="#e0594a"/>
<rect x="676" y="350" width="1" height="49" fill="#737375"/><rect x="674" y="366" width="5" height="4" fill="#69120a"/><rect x="675" y="367" width="3" height="2" fill="#e0594a"/>
<rect x="683" y="339" width="1" height="43" fill="#737375"/><rect x="681" y="353" width="5" height="15" fill="#1f5a35"/><rect x="682" y="354" width="3" height="13" fill="#70ab88"/>
<rect x="690" y="329" width="1" height="38" fill="#737375"/><rect x="688" y="344" width="5" height="11" fill="#1f5a35"/><rect x="689" y="345" width="3" height="9" fill="#70ab88"/>
<rect x="697" y="301" width="1" height="57" fill="#737375"/><rect x="695" y="307" width="5" height="39" fill="#1f5a35"/><rect x="696" y="308" width="3" height="37" fill="#70ab88"/>
<rect x="705" y="305" width="1" height="29" fill="#737375"/><rect x="703" y="307" width="5" height="19" fill="#69120a"/><rect x="704" y="308" width="3" height="17" fill="#e0594a"/>
<rect x="712" y="303" width="1" height="52" fill="#737375"/><rect x="710" y="325" width="5" height="22" fill="#69120a"/><rect x="711" y="326" width="3" height="20" fill="#e0594a"/>
<rect x="719" y="329" width="1" height="42" fill="#737375"/><rect x="717" y="345" width="5" height="5" fill="#69120a"/><rect x="718" y="346" width="3" height="3" fill="#e0594a"/>
<rect x="727" y="333" width="1" height="22" fill="#737375"/><rect x="725" y="342" width="5" height="8" fill="#1f5a35"/><rect x="726" y="343" width="3" height="6" fill="#70ab88"/>
<rect x="734" y="310" width="1" height="37" fill="#737375"/><rect x="732" y="331" width="5" height="12" fill="#1f5a35"/><rect x="733" y="332" width="3" height="10" fill="#70ab88"/>
<rect x="741" y="329" width="1" height="28" fill="#737375"/><rect x="739" y="331" width="5" height="26" fill="#69120a"/><rect x="740" y="332" width="3" height="24" fill="#e0594a"/>
<rect x="748" y="355" width="1" height="38" fill="#737375"/><rect x="746" y="356" width="5" height="17" fill="#69120a"/><rect x="747" y="357" width="3" height="15" fill="#e0594a"/>
<rect x="756" y="368" width="1" height="42" fill="#737375"/><rect x="754" y="371" width="5" height="35" fill="#69120a"/><rect x="755" y="372" width="3" height="33" fill="#e0594a"/>
<rect x="763" y="377" width="1" height="37" fill="#737375"/><rect x="761" y="390" width="5" height="16" fill="#1f5a35"/><rect x="762" y="391" width="3" height="14" fill="#70ab88"/>
<rect x="770" y="386" width="1" height="49" fill="#737375"/><rect x="768" y="390" width="5" height="36" fill="#69120a"/><rect x="769" y="391" width="3" height="34" fill="#e0594a"/>
<rect x="778" y="406" width="1" height="37" fill="#737375"/><rect x="776" y="411" width="5" height="15" fill="#1f5a35"/><rect x="777" y="412" width="3" height="13" fill="#70ab88"/>
<rect x="785" y="368" width="1" height="56" fill="#737375"/><rect x="783" y="381" width="5" height="32" fill="#1f5a35"/><rect x="784" y="382" width="3" height="30" fill="#70ab88"/>
<rect x="792" y="360" width="1" height="36" fill="#737375"/><rect x="790" y="382" width="5" height="7" fill="#69120a"/><rect x="791" y="383" width="3" height="5" fill="#e0594a"/>
<rect x="799" y="338" width="1" height="55" fill="#737375"/><rect x="797" y="350" width="5" height="39" fill="#1f5a35"/><rect x="798" y="351" width="3" height="37" fill="#70ab88"/>
<rect x="807" y="329" width="1" height="27" fill="#737375"/><rect x="805" y="350" width="5" height="1" fill="#69120a"/>
<rect x="814" y="343" width="1" height="35" fill="#737375"/><rect x="812" y="351" width="5" height="7" fill="#69120a"/><rect x="813" y="352" width="3" height="5" fill="#e0594a"/>
<rect x="821" y="304" width="1" height="54" fill="#737375"/><rect x="819" y="320" width="5" height="38" fill="#1f5a35"/><rect x="820" y="321" width="3" height="36" fill="#70ab88"/>
<rect x="829" y="306" width="1" height="35" fill="#737375"/><rect x="827" y="320" width="5" height="16" fill="#69120a"/><rect x="828" y="321" width="3" height="14" fill="#e0594a"/>
<rect x="836" y="320" width="1" height="16" fill="#737375"/><rect x="834" y="331" width="5" height="5" fill="#1f5a35"/><rect x="835" y="332" width="3" height="3" fill="#70ab88"/>
<rect x="843" y="311" width="1" height="21" fill="#737375"/><rect x="841" y="314" width="5" height="18" fill="#1f5a35"/><rect x="842" y="315" width="3" height="16" fill="#70ab88"/>
<rect x="850" y="286" width="1" height="30" fill="#737375"/><rect x="848" y="293" width="5" height="16" fill="#1f5a35"/><rect x="849" y="294" width="3" height="14" fill="#70ab88"/>
<rect x="858" y="242" width="1" height="55" fill="#737375"/><rect x="856" y="246" width="5" height="48" fill="#1f5a35"/><rect x="857" y="247" width="3" height="46" fill="#70ab88"/>
<rect x="865" y="226" width="1" height="30" fill="#737375"/><rect x="863" y="241" width="5" height="7" fill="#1f5a35"/><rect x="864" y="242" width="3" height="5" fill="#70ab88"/>
<rect x="872" y="235" width="1" height="28" fill="#737375"/><rect x="870" y="241" width="5" height="14" fill="#69120a"/><rect x="871" y="242" width="3" height="12" fill="#e0594a"/>
<rect x="880" y="186" width="1" height="72" fill="#737375"/><rect x="878" y="192" width="5" height="64" fill="#1f5a35"/><rect x="879" y="193" width="3" height="62" fill="#70ab88"/>
<rect x="887" y="62" width="1" height="221" fill="#737375"/><rect x="885" y="192" width="5" height="76" fill="#69120a"/><rect x="886" y="193" width="3" height="74" fill="#e0594a"/>
<rect x="894" y="245" width="1" height="56" fill="#737375"/><rect x="892" y="267" width="5" height="18" fill="#69120a"/><rect x="893" y="268" width="3" height="16" fill="#e0594a"/>
<rect x="901" y="255" width="1" height="33" fill="#737375"/><rect x="899" y="273" width="5" height="12" fill="#1f5a35"/><rect x="900" y="274" width="3" height="10" fill="#70ab88"/>
<rect x="909" y="248" width="1" height="35" fill="#737375"/><rect x="907" y="268" width="5" height="7" fill="#1f5a35"/><rect x="908" y="269" width="3" height="5" fill="#70ab88"/>
<rect x="916" y="258" width="1" height="69" fill="#737375"/><rect x="914" y="269" width="5" height="42" fill="#69120a"/><rect x="915" y="270" width="3" height="40" fill="#e0594a"/>
<rect x="923" y="304" width="1" height="55" fill="#737375"/><rect x="921" y="309" width="5" height="41" fill="#69120a"/><rect x="922" y="310" width="3" height="39" fill="#e0594a"/>
<rect x="931" y="323" width="1" height="35" fill="#737375"/><rect x="929" y="349" width="5" height="5" fill="#69120a"/><rect x="930" y="350" width="3" height="3" fill="#e0594a"/>
<rect x="938" y="270" width="1" height="95" fill="#737375"/><rect x="936" y="270" width="5" height="84" fill="#1f5a35"/><rect x="937" y="271" width="3" height="82" fill="#70ab88"/>
<rect x="945" y="234" width="1" height="42" fill="#737375"/><rect x="943" y="254" width="5" height="17" fill="#1f5a35"/><rect x="944" y="255" width="3" height="15" fill="#70ab88"/>
<rect x="952" y="239" width="1" height="52" fill="#737375"/><rect x="950" y="256" width="5" height="28" fill="#69120a"/><rect x="951" y="257" width="3" height="26" fill="#e0594a"/>
<rect x="960" y="259" width="1" height="31" fill="#737375"/><rect x="958" y="270" width="5" height="14" fill="#1f5a35"/><rect x="959" y="271" width="3" height="12" fill="#70ab88"/>
<rect x="967" y="235" width="1" height="45" fill="#737375"/><rect x="965" y="247" width="5" height="24" fill="#1f5a35"/><rect x="966" y="248" width="3" height="22" fill="#70ab88"/>
<rect x="974" y="241" width="1" height="29" fill="#737375"/><rect x="972" y="248" width="5" height="15" fill="#69120a"/><rect x="973" y="249" width="3" height="13" fill="#e0594a"/>
<rect x="982" y="237" width="1" height="29" fill="#737375"/><rect x="980" y="237" width="5" height="28" fill="#1f5a35"/><rect x="981" y="238" width="3" height="26" fill="#70ab88"/>
<rect x="989" y="194" width="1" height="45" fill="#737375"/><rect x="987" y="225" width="5" height="14" fill="#1f5a35"/><rect x="988" y="226" width="3" height="12" fill="#70ab88"/>
<rect x="994" y="225" width="5" height="1" fill="#69120a"/>
<rect x="1004" y="197" width="1" height="28" fill="#737375"/><rect x="1002" y="199" width="5" height="26" fill="#1f5a35"/><rect x="1003" y="200" width="3" height="24" fill="#70ab88"/>
<rect x="1011" y="170" width="1" height="41" fill="#737375"/><rect x="1009" y="182" width="5" height="19" fill="#1f5a35"/><rect x="1010" y="183" width="3" height="17" fill="#70ab88"/>
<rect x="1018" y="163" width="1" height="42" fill="#737375"/><rect x="1016" y="182" width="5" height="22" fill="#69120a"/><rect x="1017" y="183" width="3" height="20" fill="#e0594a"/>
<rect x="1025" y="187" width="1" height="29" fill="#737375"/><rect x="1023" y="204" width="5" height="6" fill="#69120a"/><rect x="1024" y="205" width="3" height="4" fill="#e0594a"/>
<rect x="1031" y="208" width="5" height="1" fill="#1f5a35"/>
<rect x="1040" y="180" width="1" height="40" fill="#737375"/><rect x="1038" y="209" width="5" height="7" fill="#69120a"/><rect x="1039" y="210" width="3" height="5" fill="#e0594a"/>
<rect x="1047" y="202" width="1" height="62" fill="#737375"/><rect x="1045" y="215" width="5" height="32" fill="#69120a"/><rect x="1046" y="216" width="3" height="30" fill="#e0594a"/>
<rect x="1055" y="229" width="1" height="26" fill="#737375"/><rect x="1053" y="242" width="5" height="4" fill="#1f5a35"/><rect x="1054" y="243" width="3" height="2" fill="#70ab88"/>
<rect x="1062" y="206" width="1" height="69" fill="#737375"/><rect x="1060" y="238" width="5" height="7" fill="#1f5a35"/><rect x="1061" y="239" width="3" height="5" fill="#70ab88"/>
<rect x="1069" y="236" width="1" height="53" fill="#737375"/><rect x="1067" y="238" width="5" height="32" fill="#69120a"/><rect x="1068" y="239" width="3" height="30" fill="#e0594a"/>
<rect x="1076" y="244" width="1" height="29" fill="#737375"/><rect x="1074" y="265" width="5" height="5" fill="#1f5a35"/><rect x="1075" y="266" width="3" height="3" fill="#70ab88"/>
<rect x="1084" y="247" width="1" height="35" fill="#737375"/><rect x="1082" y="265" width="5" height="12" fill="#69120a"/><rect x="1083" y="266" width="3" height="10" fill="#e0594a"/>
<rect x="1091" y="236" width="1" height="58" fill="#737375"/><rect x="1089" y="267" width="5" height="10" fill="#1f5a35"/><rect x="1090" y="268" width="3" height="8" fill="#70ab88"/>
<rect x="1098" y="209" width="1" height="60" fill="#737375"/><rect x="1096" y="232" width="5" height="37" fill="#1f5a35"/><rect x="1097" y="233" width="3" height="35" fill="#70ab88"/>
<rect x="1106" y="215" width="1" height="23" fill="#737375"/><rect x="1104" y="224" width="5" height="10" fill="#1f5a35"/><rect x="1105" y="225" width="3" height="8" fill="#70ab88"/>
<rect x="1113" y="220" width="1" height="56" fill="#737375"/><rect x="1111" y="222" width="5" height="47" fill="#69120a"/><rect x="1112" y="223" width="3" height="45" fill="#e0594a"/>
<rect x="1120" y="260" width="1" height="55" fill="#737375"/><rect x="1118" y="268" width="5" height="40" fill="#69120a"/><rect x="1119" y="269" width="3" height="38" fill="#e0594a"/>
<rect x="1127" y="277" width="1" height="31" fill="#737375"/><rect x="1125" y="277" width="5" height="31" fill="#1f5a35"/><rect x="1126" y="278" width="3" height="29" fill="#70ab88"/>
<rect x="1135" y="249" width="1" height="34" fill="#737375"/><rect x="1133" y="266" width="5" height="13" fill="#1f5a35"/><rect x="1134" y="267" width="3" height="11" fill="#70ab88"/>
<rect x="1142" y="261" width="1" height="28" fill="#737375"/><rect x="1140" y="266" width="5" height="15" fill="#69120a"/><rect x="1141" y="267" width="3" height="13" fill="#e0594a"/>
<rect x="1149" y="251" width="1" height="33" fill="#737375"/><rect x="1147" y="268" width="5" height="13" fill="#1f5a35"/><rect x="1148" y="269" width="3" height="11" fill="#70ab88"/>
<rect x="1157" y="254" width="1" height="45" fill="#737375"/><rect x="1155" y="268" width="5" height="27" fill="#69120a"/><rect x="1156" y="269" width="3" height="25" fill="#e0594a"/>
<rect x="1164" y="273" width="1" height="28" fill="#737375"/><rect x="1162" y="282" width="5" height="13" fill="#1f5a35"/><rect x="1163" y="283" width="3" height="11" fill="#70ab88"/>
<rect x="1171" y="270" width="1" height="20" fill="#737375"/><rect x="1169" y="282" width="5" height="5" fill="#69120a"/><rect x="1170" y="283" width="3" height="3" fill="#e0594a"/>
<rect x="1178" y="252" width="1" height="35" fill="#737375"/><rect x="1176" y="261" width="5" height="26" fill="#1f5a35"/><rect x="1177" y="262" width="3" height="24" fill="#70ab88"/>
<rect x="1186" y="233" width="1" height="34" fill="#737375"/><rect x="1184" y="254" width="5" height="9" fill="#1f5a35"/><rect x="1185" y="255" width="3" height="7" fill="#70ab88"/>
<rect x="1193" y="220" width="1" height="42" fill="#737375"/><rect x="1191" y="249" width="5" height="6" fill="#1f5a35"/><rect x="1192" y="250" width="3" height="4" fill="#70ab88"/>
<rect x="1200" y="203" width="1" height="53" fill="#737375"/><rect x="1198" y="222" width="5" height="28" fill="#1f5a35"/><rect x="1199" y="223" width="3" height="26" fill="#70ab88"/>
<rect x="1208" y="217" width="1" height="53" fill="#737375"/><rect x="1206" y="222" width="5" height="27" fill="#69120a"/><rect x="1207" y="223" width="3" height="25" fill="#e0594a"/>
<rect x="1215" y="244" width="1" height="48" fill="#737375"/><rect x="1213" y="248" width="5" height="27" fill="#69120a"/><rect x="1214" y="249" width="3" height="25" fill="#e0594a"/>
<rect x="1222" y="250" width="1" height="28" fill="#737375"/><rect x="1220" y="256" width="5" height="19" fill="#1f5a35"/><rect x="1221" y="257" width="3" height="17" fill="#70ab88"/>
<rect x="1229" y="240" width="1" height="25" fill="#737375"/><rect x="1227" y="255" width="5" height="3" fill="#69120a"/><rect x="1228" y="256" width="3" height="1" fill="#e0594a"/>
<rect x="1237" y="250" width="1" height="33" fill="#737375"/><rect x="1235" y="257" width="5" height="2" fill="#69120a"/>
<rect x="1244" y="252" width="1" height="31" fill="#737375"/><rect x="1242" y="258" width="5" height="18" fill="#69120a"/><rect x="1243" y="259" width="3" height="16" fill="#e0594a"/>
<rect x="1251" y="269" width="1" height="28" fill="#737375"/><rect x="1249" y="275" width="5" height="9" fill="#69120a"/><rect x="1250" y="276" width="3" height="7" fill="#e0594a"/>
<rect x="1259" y="261" width="1" height="74" fill="#737375"/><rect x="1257" y="283" width="5" height="48" fill="#69120a"/><rect x="1258" y="284" width="3" height="46" fill="#e0594a"/>
<rect x="1266" y="324" width="1" height="21" fill="#737375"/><rect x="1264" y="329" width="5" height="3" fill="#69120a"/><rect x="1265" y="330" width="3" height="1" fill="#e0594a"/>
<rect x="1273" y="303" width="1" height="32" fill="#737375"/><rect x="1271" y="310" width="5" height="22" fill="#1f5a35"/><rect x="1272" y="311" width="3" height="20" fill="#70ab88"/>
<rect x="1280" y="291" width="1" height="35" fill="#737375"/><rect x="1278" y="294" width="5" height="17" fill="#1f5a35"/><rect x="1279" y="295" width="3" height="15" fill="#70ab88"/>
<rect x="1288" y="277" width="1" height="22" fill="#737375"/><rect x="1286" y="286" width="5" height="9" fill="#1f5a35"/><rect x="1287" y="287" width="3" height="7" fill="#70ab88"/>
<rect x="1295" y="263" width="1" height="30" fill="#737375"/><rect x="1293" y="275" width="5" height="12" fill="#1f5a35"/><rect x="1294" y="276" width="3" height="10" fill="#70ab88"/>
<rect x="1302" y="260" width="1" height="23" fill="#737375"/><rect x="1300" y="272" width="5" height="4" fill="#1f5a35"/><rect x="1301" y="273" width="3" height="2" fill="#70ab88"/>
<rect x="1310" y="257" width="1" height="27" fill="#737375"/><rect x="1308" y="273" width="5" height="3" fill="#69120a"/><rect x="1309" y="274" width="3" height="1" fill="#e0594a"/>
<rect x="1317" y="245" width="1" height="45" fill="#737375"/><rect x="1315" y="256" width="5" height="21" fill="#1f5a35"/><rect x="1316" y="257" width="3" height="19" fill="#70ab88"/>
<rect x="1324" y="253" width="1" height="22" fill="#737375"/><rect x="1322" y="256" width="5" height="8" fill="#69120a"/><rect x="1323" y="257" width="3" height="6" fill="#e0594a"/>
<rect x="1331" y="249" width="1" height="19" fill="#737375"/><rect x="1329" y="263" width="5" height="3" fill="#69120a"/><rect x="1330" y="264" width="3" height="1" fill="#e0594a"/>
<rect x="1339" y="251" width="1" height="24" fill="#737375"/><rect x="1337" y="258" width="5" height="7" fill="#1f5a35"/><rect x="1338" y="259" width="3" height="5" fill="#70ab88"/>
<rect x="1346" y="229" width="1" height="39" fill="#737375"/><rect x="1344" y="241" width="5" height="17" fill="#1f5a35"/><rect x="1345" y="242" width="3" height="15" fill="#70ab88"/>
<rect x="1353" y="163" width="1" height="86" fill="#737375"/><rect x="1351" y="173" width="5" height="70" fill="#1f5a35"/><rect x="1352" y="174" width="3" height="68" fill="#70ab88"/>
<rect x="1361" y="108" width="1" height="72" fill="#737375"/><rect x="1359" y="118" width="5" height="57" fill="#1f5a35"/><rect x="1360" y="119" width="3" height="55" fill="#70ab88"/>
<rect x="1368" y="70" width="1" height="56" fill="#737375"/><rect x="1366" y="95" width="5" height="26" fill="#1f5a35"/><rect x="1367" y="96" width="3" height="24" fill="#70ab88"/>
<rect x="1375" y="52" width="1" height="51" fill="#737375"/><rect x="1373" y="60" width="5" height="35" fill="#1f5a35"/><rect x="1374" y="61" width="3" height="33" fill="#70ab88"/>
<rect x="1382" y="36" width="1" height="31" fill="#737375"/><rect x="1380" y="41" width="5" height="20" fill="#1f5a35"/><rect x="1381" y="42" width="3" height="18" fill="#70ab88"/>
</g>
<polyline points="2.0,697.0 12.5,700.7 25.0,701.2 37.5,702.0 49.9,702.5 62.4,703.2 74.9,703.7 87.4,704.5 99.9,705.7 112.4,705.0 124.8,707.0 136.1,706.2 147.3,708.7 157.3,710.5 164.8,708.7 174.8,710.0 184.8,709.5 197.3,711.2 208.5,712.5 214.7,709.2 224.7,709.5 237.2,708.2 245.9,708.2 252.2,710.0 262.2,710.0 274.7,711.2 289.6,711.7 299.6,713.0 312.1,713.7 324.6,714.2 337.1,715.7 347.1,716.5 357.1,715.7 367.0,716.5 380.0,717.0 385.0,715.7 391.2,716.2 398.7,717.5 406.2,717.2 413.7,718.5 426.2,719.2 434.9,720.4 444.9,721.2 454.9,720.7 463.6,721.4 472.4,721.9 478.6,721.2 487.4,721.9 493.6,722.9 501.1,722.2 507.3,721.7 516.1,722.4 523.6,722.4 529.8,721.9 537.3,719.5 544.8,718.0 552.3,715.7 559.8,714.5 569.8,714.5 579.8,715.2 587.2,714.2 594.7,712.0 603.5,713.0 616.7,713.2 624.7,705.7 632.2,705.2 639.7,705.5 645.9,703.0 652.2,701.7 659.7,701.2 667.1,701.7 674.6,701.2 682.1,701.0 689.6,701.2 696.6,699.7 704.6,701.2 712.1,700.5 719.6,700.5 727.1,702.5 734.6,703.0 742.0,704.0 752.0,704.0 760.0,703.7 770.0,703.2 777.5,703.5 785.0,701.7 792.5,702.5 799.5,701.2 807.4,702.5 814.9,703.2 822.4,701.7 829.9,702.5 836.2,704.5 843.6,706.2 849.9,706.7 857.4,705.2 864.9,706.0 871.9,707.0 879.9,703.7 887.3,686.5 894.8,686.7 902.3,688.7 909.1,690.0 916.1,688.2 923.5,687.7 931.0,689.2 937.8,685.0 946.0,686.2 952.3,686.5 959.8,688.5 967.2,689.5 974.7,691.5 982.2,693.2 988.5,693.7 996.0,698.0 1003.4,699.2 1010.9,699.5 1018.4,699.5 1024.7,700.7 1033.4,704.7 1040.9,704.5 1047.1,702.5 1055.1,704.0 1062.1,701.2 1069.6,700.0 1077.1,701.5 1084.6,702.0 1090.8,700.5 1097.6,698.7 1105.8,700.5 1113.3,699.5 1119.6,698.5 1127.0,699.5 1134.5,700.5 1140.0,701.5 1147.5,702.5 1156.2,702.2 1163.7,703.5 1171.2,705.5 1178.7,705.7 1186.2,706.2 1193.7,705.0 1199.9,703.2 1207.4,702.0 1214.9,701.5 1222.4,702.7 1229.9,704.2 1236.1,704.7 1243.6,705.7 1251.1,706.7 1258.6,703.2 1266.1,704.7 1273.6,705.5 1279.8,705.7 1287.3,707.0 1294.8,708.0 1302.3,709.2 1309.8,710.2 1317.3,709.5 1324.8,711.0 1332.3,712.5 1339.3,713.2 1346.0,712.5 1353.5,707.0 1361.0,704.2 1368.5,702.5 1375.2,701.5 1381.7,702.7" fill="none" stroke="#b22833" stroke-width="1.1" stroke-linejoin="round" stroke-linecap="round" />
<polyline points="2.0,769.9 5.5,765.6 12.5,771.9 15.0,774.9 25.0,784.9 30.0,791.1 34.2,793.6 40.0,788.6 48.7,782.9 62.4,784.9 71.2,784.1 79.9,777.4 86.1,774.4 93.6,772.1 99.9,773.1 107.4,775.6 114.9,771.1 122.3,771.1 128.6,765.6 136.1,754.2 144.8,749.9 151.1,750.7 157.3,752.4 165.3,746.2 172.3,748.7 179.8,752.4 187.3,757.9 194.8,760.6 202.2,760.6 208.5,758.2 216.0,763.6 223.5,764.4 231.0,761.6 239.7,768.6 249.7,776.1 253.4,779.1 259.7,777.4 267.2,779.9 274.7,785.4 281.4,787.4 289.6,784.9 299.6,782.9 312.1,782.9 319.6,783.6 329.6,782.4 339.6,779.9 347.1,777.4 354.6,772.4 362.0,769.1 369.5,769.4 375.8,766.1 380.0,762.4 385.0,758.2 391.2,752.7 398.7,753.4 406.2,753.7 413.2,754.9 420.0,760.4 427.4,765.4 434.9,765.6 442.4,764.9 449.9,764.6 456.2,768.6 463.6,772.4 471.6,774.6 478.6,767.4 486.1,762.1 493.6,760.9 501.1,759.9 507.8,770.9 514.8,769.4 522.8,773.6 529.8,782.4 536.8,795.4 543.5,798.4 551.8,794.4 559.3,794.9 567.3,789.9 574.8,785.4 582.2,782.4 588.5,779.9 595.2,774.1 603.5,771.9 611.0,769.4 616.7,768.6 624.7,761.1 632.2,758.9 639.2,757.9 645.9,753.7 653.4,751.2 660.9,749.4 668.4,752.9 675.9,755.2 683.4,755.9 689.6,756.4 697.1,755.7 704.6,756.7 712.1,758.7 719.1,760.4 725.8,760.4 733.3,759.7 740.8,761.9 748.3,765.6 755.8,769.4 760.0,770.6 763.7,771.9 770.0,777.9 777.5,780.4 785.0,774.9 792.5,772.9 799.5,766.6 806.9,762.1 813.7,766.1 821.2,757.7 828.7,758.4 835.7,759.4 843.1,756.9 849.9,752.4 858.1,745.9 864.4,745.7 871.9,750.7 879.9,748.2 887.3,750.2 894.1,760.9 902.3,761.1 909.1,761.1 916.1,766.4 923.5,773.4 931.0,774.9 937.8,768.4 945.3,760.6 952.3,764.4 959.8,765.4 967.2,761.9 974.2,762.9 982.2,760.6 989.0,754.7 996.0,757.2 1003.4,754.4 1010.9,751.7 1018.4,754.4 1025.4,757.2 1033.4,758.2 1040.1,758.7 1047.1,765.4 1055.1,766.4 1062.1,766.6 1069.6,773.4 1076.6,774.4 1084.1,777.4 1090.8,776.4 1098.3,768.1 1105.8,765.6 1113.3,776.1 1120.0,786.1 1127.5,781.9 1135.0,775.4 1140.0,776.6 1143.0,776.1 1148.7,773.9 1156.2,776.9 1163.7,777.4 1171.2,775.6 1178.7,768.6 1186.2,761.6 1192.9,757.4 1199.9,752.4 1207.4,758.7 1214.9,770.6 1222.4,766.1 1229.1,763.4 1236.6,767.9 1244.1,771.1 1251.1,777.4 1258.6,786.6 1265.6,794.4 1273.6,783.6 1281.1,776.6 1288.6,770.6 1296.1,767.4 1303.5,766.1 1309.8,766.4 1317.3,763.6 1324.8,762.9 1332.3,761.9 1339.3,761.9 1346.0,754.9 1353.5,738.7 1361.0,730.7 1368.5,735.4 1375.2,741.7 1381.7,745.7" fill="none" stroke="#2962ff" stroke-width="1.1" stroke-linejoin="round" stroke-linecap="round" />
<g shape-rendering="crispEdges" fill="#505155"><rect x="1459" y="2" width="1" height="829"/><rect x="2" y="803" width="1517" height="1"/></g>
<g shape-rendering="crispEdges" stroke="#e0e3eb" stroke-width="1"><line x1="2" y1="682.5" x2="1519" y2="682.5"/><line x1="2" y1="726.5" x2="1519" y2="726.5"/></g>
<g font-size="12.5" fill="#50535e">
<text x="1467.2" y="43.6" textLength="42" lengthAdjust="spacingAndGlyphs">2160.00</text><text x="1467.2" y="77.6" textLength="42" lengthAdjust="spacingAndGlyphs">2140.00</text><text x="1467.2" y="112.6" textLength="42" lengthAdjust="spacingAndGlyphs">2120.00</text><text x="1467.2" y="147.6" textLength="42" lengthAdjust="spacingAndGlyphs">2100.00</text><text x="1467.2" y="217.6" textLength="42" lengthAdjust="spacingAndGlyphs">2060.00</text><text x="1467.2" y="252.6" textLength="42" lengthAdjust="spacingAndGlyphs">2040.00</text><text x="1467.2" y="286.6" textLength="42" lengthAdjust="spacingAndGlyphs">2020.00</text><text x="1467.2" y="321.6" textLength="42" lengthAdjust="spacingAndGlyphs">2000.00</text><text x="1467.2" y="356.6" textLength="42" lengthAdjust="spacingAndGlyphs">1980.00</text><text x="1467.2" y="426.6" textLength="42" lengthAdjust="spacingAndGlyphs">1940.00</text><text x="1467.2" y="495.6" textLength="42" lengthAdjust="spacingAndGlyphs">1900.00</text><text x="1467.2" y="530.6" textLength="42" lengthAdjust="spacingAndGlyphs">1880.00</text><text x="1467.2" y="565.6" textLength="42" lengthAdjust="spacingAndGlyphs">1860.00</text><text x="1467.2" y="600.6" textLength="42" lengthAdjust="spacingAndGlyphs">1840.00</text><text x="1467.2" y="635.6" textLength="42" lengthAdjust="spacingAndGlyphs">1820.00</text><text x="1467.2" y="670.6" textLength="42" lengthAdjust="spacingAndGlyphs">1800.00</text>
</g>
<rect x="1460" y="2" width="59" height="34" fill="#fff"/>
<rect x="1463.5" y="6.5" width="52" height="25" rx="4" ry="4" fill="#fff" stroke="#e0e3eb" stroke-width="1"/>
<text x="1467.5" y="23" font-size="12" fill="#131722" textLength="20.5" lengthAdjust="spacingAndGlyphs">USD</text>
<path d="M1504.9 18.2 l2.6 2.6 l2.6 -2.6" fill="none" stroke="#131722" stroke-width="1.3"/>
<path d="M1459 168 H1513 a2 2 0 0 1 2 2 V183 a2 2 0 0 1 -2 2 H1459 Z" fill="#000"/><text x="1467" y="180.7" font-size="12.5" font-weight="bold" fill="#fff" textLength="42.3" lengthAdjust="spacingAndGlyphs">2081.00</text>
<path d="M1459 187 H1513 a2 2 0 0 1 2 2 V202 a2 2 0 0 1 -2 2 H1459 Z" fill="#000"/><text x="1467" y="199.7" font-size="12.5" font-weight="bold" fill="#fff" textLength="42.3" lengthAdjust="spacingAndGlyphs">2070.42</text>
<path d="M1459 233 H1513 a2 2 0 0 1 2 2 V248 a2 2 0 0 1 -2 2 H1459 Z" fill="#000"/><text x="1467" y="245.7" font-size="12.5" font-weight="bold" fill="#fff" textLength="42.3" lengthAdjust="spacingAndGlyphs">2043.61</text>
<path d="M1459 253 H1513 a2 2 0 0 1 2 2 V268 a2 2 0 0 1 -2 2 H1459 Z" fill="#000"/><text x="1467" y="265.7" font-size="12.5" font-weight="bold" fill="#fff" textLength="42.3" lengthAdjust="spacingAndGlyphs">2032.13</text>
<path d="M1459 292 H1513 a2 2 0 0 1 2 2 V307 a2 2 0 0 1 -2 2 H1459 Z" fill="#000"/><text x="1467" y="304.7" font-size="12.5" font-weight="bold" fill="#fff" textLength="42.3" lengthAdjust="spacingAndGlyphs">2009.75</text>
<path d="M1459 331 H1513 a2 2 0 0 1 2 2 V346 a2 2 0 0 1 -2 2 H1459 Z" fill="#000"/><text x="1467" y="343.7" font-size="12.5" font-weight="bold" fill="#fff" textLength="42.3" lengthAdjust="spacingAndGlyphs">1987.23</text>
<path d="M1459 379 H1513 a2 2 0 0 1 2 2 V394 a2 2 0 0 1 -2 2 H1459 Z" fill="#000"/><text x="1467" y="391.7" font-size="12.5" font-weight="bold" fill="#fff" textLength="42.3" lengthAdjust="spacingAndGlyphs">1959.74</text>
<path d="M1459 427 H1513 a2 2 0 0 1 2 2 V442 a2 2 0 0 1 -2 2 H1459 Z" fill="#000"/><text x="1467" y="439.7" font-size="12.5" font-weight="bold" fill="#fff" textLength="42.3" lengthAdjust="spacingAndGlyphs">1932.49</text>
<path d="M1459 444 H1513 a2 2 0 0 1 2 2 V459 a2 2 0 0 1 -2 2 H1459 Z" fill="#000"/><text x="1467" y="456.7" font-size="12.5" font-weight="bold" fill="#fff" textLength="42.3" lengthAdjust="spacingAndGlyphs">1931.57</text>
<path d="M1459 495 H1513 a2 2 0 0 1 2 2 V510 a2 2 0 0 1 -2 2 H1459 Z" fill="#000"/><text x="1467" y="507.7" font-size="12.5" font-weight="bold" fill="#fff" textLength="42.3" lengthAdjust="spacingAndGlyphs">1893.12</text>
<path d="M1459 512 H1513 a2 2 0 0 1 2 2 V527 a2 2 0 0 1 -2 2 H1459 Z" fill="#000"/><text x="1467" y="524.7" font-size="12.5" font-weight="bold" fill="#fff" textLength="42.3" lengthAdjust="spacingAndGlyphs">1885.03</text>
<path d="M1459 649 H1513 a2 2 0 0 1 2 2 V664 a2 2 0 0 1 -2 2 H1459 Z" fill="#000"/><text x="1467" y="661.7" font-size="12.5" font-weight="bold" fill="#fff" textLength="42.3" lengthAdjust="spacingAndGlyphs">1804.78</text>
<text x="1467.2" y="714.1" font-size="12.5" fill="#50535e" textLength="29.5" lengthAdjust="spacingAndGlyphs">20.00</text>
<text x="1467.2" y="772.8" font-size="12.5" fill="#50535e" textLength="23" lengthAdjust="spacingAndGlyphs">0.00</text>
<g font-size="12" fill="#50535e" text-anchor="middle"><text x="5.5" y="821">16</text><text x="85.5" y="821">Jul</text><text x="238.5" y="821">Aug</text><text x="318.5" y="821">16</text><text x="406.0" y="821">Sep</text><text x="559.5" y="821">Oct</text><text x="639.5" y="821">17</text><text x="719.5" y="821">Nov</text><text x="799.5" y="821">16</text><text x="880.0" y="821">Dec</text><text x="1033.0" y="821" font-weight="bold">2024</text><text x="1113.0" y="821">16</text><text x="1200.0" y="821">Feb</text><text x="1353.0" y="821">Mar</text><text x="1433.5" y="821">18</text></g>
<rect x="0" y="804" width="2" height="27" fill="#e0e3eb"/>
<g fill="none" stroke="#131722" stroke-width="0.9"><path d="M1481.9 817.6 l3.6 -6 h7.2 l3.6 6 l-3.6 6 h-7.2 z"/><circle cx="1489.1" cy="817.6" r="2.2"/></g>
<g fill="#fff" opacity="0.55"><rect x="7" y="5" width="658" height="26"/><rect x="7" y="33" width="157" height="26"/><rect x="7" y="62" width="561" height="24"/><rect x="7" y="690" width="116" height="20"/><rect x="7" y="734" width="156" height="20"/></g>
<circle cx="20" cy="17.85" r="9.05" fill="#d69b00"/>
<g fill="#fff"><path d="M18.2 13.8 H21.6 L23.3 17.0 H16.7 Z"/><path d="M15.1 18.0 H17.8 L19.5 21.0 H13.2 Z"/><path d="M21.9 18.0 H24.9 L26.9 21.0 H20.6 Z"/></g>
<text x="33.1" y="23.9" font-size="16.4" fill="#53555c" textLength="33.9" lengthAdjust="spacingAndGlyphs">CFDs</text><text x="71.9" y="23.9" font-size="16.4" fill="#53555c" textLength="16.8" lengthAdjust="spacingAndGlyphs">on</text><text x="94.5" y="23.9" font-size="16.4" fill="#53555c" textLength="31.3" lengthAdjust="spacingAndGlyphs">Gold</text><text x="133.4" y="23.9" font-size="16.4" fill="#53555c" textLength="30.8" lengthAdjust="spacingAndGlyphs">(US$</text><text x="170.9" y="23.9" font-size="16.4" fill="#53555c" textLength="5.6" lengthAdjust="spacingAndGlyphs">/</text><text x="182.8" y="23.9" font-size="16.4" fill="#53555c" textLength="25.0" lengthAdjust="spacingAndGlyphs">OZ)</text><text x="220.1" y="23.9" font-size="16.4" fill="#53555c" textLength="16.7" lengthAdjust="spacingAndGlyphs">1D</text><text x="251.3" y="23.9" font-size="16.4" fill="#53555c" textLength="26.4" lengthAdjust="spacingAndGlyphs">TVC</text><circle cx="213.4" cy="18.6" r="1.1" fill="#53555c"/><circle cx="243.6" cy="18.6" r="1.1" fill="#53555c"/>
<circle cx="302" cy="18" r="9" fill="#d5efea"/><circle cx="302" cy="18" r="4" fill="#089981"/>
<text x="327.7" y="23.0" font-size="12.5" fill="#6a6d78" textLength="7.7" lengthAdjust="spacingAndGlyphs">O</text><text x="337.7" y="23.0" font-size="12.5" fill="#1e5b3a" textLength="44.4" lengthAdjust="spacingAndGlyphs">2148.05</text><text x="389.8" y="23.0" font-size="12.5" fill="#6a6d78" textLength="7.7" lengthAdjust="spacingAndGlyphs">H</text><text x="398.6" y="23.0" font-size="12.5" fill="#1e5b3a" textLength="45.0" lengthAdjust="spacingAndGlyphs">2161.53</text><text x="450.7" y="23.0" font-size="12.5" fill="#6a6d78" textLength="5.3" lengthAdjust="spacingAndGlyphs">L</text><text x="457.5" y="23.0" font-size="12.5" fill="#1e5b3a" textLength="44.3" lengthAdjust="spacingAndGlyphs">2144.36</text><text x="509.5" y="23.0" font-size="12.5" fill="#6a6d78" textLength="6.5" lengthAdjust="spacingAndGlyphs">C</text><text x="517.8" y="23.0" font-size="12.5" fill="#1e5b3a" textLength="45.5" lengthAdjust="spacingAndGlyphs">2158.74</text><text x="570.4" y="23.0" font-size="12.5" fill="#1e5b3a" textLength="37.3" lengthAdjust="spacingAndGlyphs">+10.79</text><text x="613.6" y="23.0" font-size="12.5" fill="#1e5b3a" textLength="47.9" lengthAdjust="spacingAndGlyphs">(+0.50%)</text>
<rect x="10.5" y="34.5" width="61" height="23" rx="4" ry="4" fill="#fff" stroke="#f23645" stroke-width="1"/>
<text x="18.2" y="50.9" font-size="12" fill="#f23645" textLength="44.8" lengthAdjust="spacingAndGlyphs">2158.63</text>
<text x="79.8" y="50.3" font-size="11" fill="#131722" textLength="11" lengthAdjust="spacingAndGlyphs">24</text>
<rect x="99.5" y="34.5" width="61" height="23" rx="4" ry="4" fill="#fff" stroke="#2962ff" stroke-width="1"/>
<text x="108" y="50.9" font-size="12" fill="#2962ff" textLength="44.8" lengthAdjust="spacingAndGlyphs">2158.88</text>
<text x="11.2" y="78.5" font-size="12.5" fill="#555862" textLength="16.4" lengthAdjust="spacingAndGlyphs">MA</text><text x="31.5" y="78.5" font-size="12.5" fill="#555862" textLength="38.8" lengthAdjust="spacingAndGlyphs">Ribbon</text><text x="74.9" y="78.5" font-size="12.5" fill="#555862" textLength="23.0" lengthAdjust="spacingAndGlyphs">SMA</text><text x="101.4" y="78.5" font-size="12.5" fill="#555862" textLength="28.7" lengthAdjust="spacingAndGlyphs">close</text><text x="135.3" y="78.5" font-size="12.5" fill="#555862" textLength="11.9" lengthAdjust="spacingAndGlyphs">20</text><text x="152.4" y="78.5" font-size="12.5" fill="#555862" textLength="23.0" lengthAdjust="spacingAndGlyphs">SMA</text><text x="178.9" y="78.5" font-size="12.5" fill="#555862" textLength="28.2" lengthAdjust="spacingAndGlyphs">close</text><text x="212.6" y="78.5" font-size="12.5" fill="#555862" textLength="12.6" lengthAdjust="spacingAndGlyphs">50</text><text x="230.1" y="78.5" font-size="12.5" fill="#555862" textLength="23.0" lengthAdjust="spacingAndGlyphs">SMA</text><text x="256.4" y="78.5" font-size="12.5" fill="#555862" textLength="28.5" lengthAdjust="spacingAndGlyphs">close</text><text x="290.5" y="78.5" font-size="12.5" fill="#555862" textLength="18.4" lengthAdjust="spacingAndGlyphs">100</text><text x="314.2" y="78.5" font-size="12.5" fill="#555862" textLength="23.0" lengthAdjust="spacingAndGlyphs">SMA</text><text x="340.5" y="78.5" font-size="12.5" fill="#555862" textLength="28.9" lengthAdjust="spacingAndGlyphs">close</text><text x="374.0" y="78.5" font-size="12.5" fill="#555862" textLength="19.9" lengthAdjust="spacingAndGlyphs">200</text><text x="402.3" y="78.3" font-size="12.5" fill="#f23645" textLength="45.4" lengthAdjust="spacingAndGlyphs">2047.20</text><text x="454.2" y="78.3" font-size="12.5" fill="#2962ff" textLength="44.7" lengthAdjust="spacingAndGlyphs">2039.85</text><g fill="none" stroke="#131722" stroke-width="0.9"><ellipse cx="510.3" cy="74.3" rx="2.6" ry="3.4"/><path d="M507.3 78.6 L513.4 69.9"/></g><text x="520.3" y="78.3" font-size="12.5" fill="#131722" textLength="44.3" lengthAdjust="spacingAndGlyphs">1972.20</text>
<rect x="11.5" y="88.5" width="28" height="20" rx="3" ry="3" fill="#fff" stroke="#e0e3eb" stroke-width="1"/>
<path d="M21.5 100.5 l4 -4 l4 4" fill="none" stroke="#131722" stroke-width="1.4"/>
<text x="11.2" y="703.8" font-size="12" fill="#50535e" textLength="68" lengthAdjust="spacingAndGlyphs">ATR 14 RMA</text>
<text x="87" y="703.8" font-size="12" fill="#b22833" textLength="31" lengthAdjust="spacingAndGlyphs">22.86</text>
<text x="11.2" y="748" font-size="12" fill="#50535e" textLength="101" lengthAdjust="spacingAndGlyphs">CCI 20 hlc3 SMA 5</text>
<text x="121.5" y="748" font-size="12" fill="#2962ff" textLength="38" lengthAdjust="spacingAndGlyphs">197.02</text>
<g transform="translate(14.1,770.8) scale(0.8333)"><g fill="#fff" stroke="#fff" stroke-width="3.4" stroke-linejoin="round"><path d="M14 22H7V11H0V4h14v18z"/><path d="M28 22h-8l7.5-18h8L28 22z"/><circle cx="20" cy="8" r="4"/></g><g fill="#131722"><path d="M14 22H7V11H0V4h14v18z"/><path d="M28 22h-8l7.5-18h8L28 22z"/><circle cx="20" cy="8" r="4"/></g></g>
<defs><filter id="ds" x="-5%" y="-10%" width="112%" height="125%"><feDropShadow dx="1.7" dy="1.7" stdDeviation="0.8" flood-color="#1a1a1a" flood-opacity="0.62"/></filter></defs>
<g filter="url(#ds)" opacity="0.8" fill="#fff"><path d="M1288.2 739.2 L1298.5 739.0 L1298.1 753.7 L1287.7 753.7 Z M1310.8 740.6 L1317.3 737.3 L1321.9 739.0 L1318.3 740.9 Z M1301.0 740.6 L1341.0 740.6 L1339.1 748.0 L1301.4 748.4 Z M1290.3 755.8 L1296.7 755.8 L1295.9 764.8 L1291.1 764.8 Z M1285.8 771.3 L1293.6 770.5 L1283.1 793.1 L1278.0 793.1 L1278.0 784.5 Z M1319.0 758.6 L1322.3 758.6 L1325.1 766.4 L1321.3 766.4 Z M1314.1 776.3 L1317.2 776.3 L1320.0 784.5 L1316.4 784.5 Z"/><path fill-rule="evenodd" d="M1304.1 751.0 L1337.8 751.0 L1327.6 792.2 L1292.3 792.2 Z M1308.5 757.4 L1326.1 757.4 L1323.1 766.4 L1305.7 766.4 Z M1304.1 774.6 L1321.3 774.6 L1318.3 784.5 L1301.1 784.5 Z"/><path d="M1351.0 739.0 L1390.7 739.0 L1388.7 746.1 L1349.6 746.1 Z M1349.6 746.1 L1355.9 746.1 L1352.6 760.3 L1346.1 760.3 Z M1346.1 760.3 L1393.6 760.3 L1391.6 768.1 L1343.9 768.1 Z M1391.6 739.8 L1398.8 739.8 L1387.5 789.8 L1383.8 793.1 L1362.7 793.1 L1363.9 786.3 L1380.5 786.3 L1382.1 781.2 Z M1339.8 775.0 L1380.2 775.0 L1378.3 782.4 L1337.9 782.4 Z"/><path d="M1403.5 778.9 L1413.4 778.9 L1401.1 793.1 L1392.5 793.1 Z M1413.8 778.9 L1423.2 778.9 L1429.3 793.1 L1417.9 793.1 Z M1433.9 744.3 L1452.7 744.3 L1450.8 751.7 L1431.8 751.7 Z M1450.8 740.2 L1459.8 740.2 L1448.9 789.4 L1445.3 793.1 L1434.1 793.1 L1435.1 786.5 L1439.2 786.5 L1440.4 784.5 Z M1438.4 752.5 L1446.7 752.5 L1433.6 781.2 L1425.2 781.2 Z"/><path fill-rule="evenodd" d="M1407.6 740.2 L1433.6 740.2 L1424.0 778.9 L1398.2 778.9 Z M1411.6 748.8 L1422.5 748.8 L1415.2 776.7 L1404.6 776.7 Z"/><path d="M1478.2 740.0 L1486.0 740.0 L1472.7 755.4 L1465.1 755.4 Z M1479.5 754.5 L1487.1 754.3 L1477.6 764.8 L1464.3 764.8 L1463.5 762.3 L1471.7 762.3 Z M1463.5 764.8 L1491.8 764.8 L1489.5 773.0 L1461.0 773.0 Z M1456.9 773.4 L1480.7 773.4 L1478.6 780.4 L1454.9 780.4 Z M1456.9 785.7 L1476.6 785.7 L1474.8 792.7 L1455.3 792.7 Z M1491.8 739.5 L1520.7 739.5 L1518.8 746.8 L1490.1 746.8 Z M1512.7 739.5 L1520.7 739.5 L1509.4 755.8 L1515.9 759.9 L1513.9 768.1 L1490.5 768.1 L1493.0 763.1 L1501.2 759.0 L1497.9 755.8 L1501.2 748.4 L1509.4 748.4 Z M1483.1 768.1 L1514.3 768.1 L1512.2 774.6 L1481.5 774.6 Z M1497.9 774.6 L1511.8 774.6 L1509.4 785.3 L1495.4 785.3 Z M1478.2 785.3 L1509.4 785.3 L1507.6 792.7 L1476.4 792.7 Z"/></g>
<g font-weight="bold" font-style="italic" opacity="0.76"><text x="1289.4" y="826.1" font-size="29" fill="#587fcb" stroke="#587fcb" stroke-width="1.3" textLength="18.6" lengthAdjust="spacingAndGlyphs">z</text><text x="1316.2" y="826.1" font-size="29" fill="#587fcb" stroke="#587fcb" stroke-width="1.3" textLength="18.6" lengthAdjust="spacingAndGlyphs">z</text><text x="1344.6" y="826.1" font-size="29" fill="#587fcb" stroke="#587fcb" stroke-width="1.3" textLength="15.0" lengthAdjust="spacingAndGlyphs">r</text><text x="1368.7" y="826.1" font-size="28" fill="#587fcb" stroke="#587fcb" stroke-width="1.3" textLength="13.0" lengthAdjust="spacingAndGlyphs">t</text><text x="1388.4" y="826.1" font-size="28" fill="#587fcb" stroke="#587fcb" stroke-width="1.3" textLength="19.6" lengthAdjust="spacingAndGlyphs">0</text><text x="1422.4" y="826.1" font-size="28" fill="#587fcb" stroke="#587fcb" stroke-width="1.3" textLength="13.8" lengthAdjust="spacingAndGlyphs">1</text><text x="1446.2" y="826.1" font-size="29" fill="#587fcb" stroke="#587fcb" stroke-width="1.3" textLength="8.8" lengthAdjust="spacingAndGlyphs">.</text><text x="1466.8" y="826.1" font-size="29" fill="#587fcb" stroke="#587fcb" stroke-width="1.3" textLength="17.0" lengthAdjust="spacingAndGlyphs">c</text><text x="1491.9" y="826.1" font-size="29" fill="#587fcb" stroke="#587fcb" stroke-width="1.3" textLength="19.8" lengthAdjust="spacingAndGlyphs">n</text><text x="1288.0" y="824.7" font-size="29" fill="#6cbbff" stroke="#6cbbff" stroke-width="1.3" textLength="18.6" lengthAdjust="spacingAndGlyphs">z</text><text x="1314.8" y="824.7" font-size="29" fill="#6cbbff" stroke="#6cbbff" stroke-width="1.3" textLength="18.6" lengthAdjust="spacingAndGlyphs">z</text><text x="1343.2" y="824.7" font-size="29" fill="#6cbbff" stroke="#6cbbff" stroke-width="1.3" textLength="15.0" lengthAdjust="spacingAndGlyphs">r</text><text x="1367.3" y="824.7" font-size="28" fill="#6cbbff" stroke="#6cbbff" stroke-width="1.3" textLength="13.0" lengthAdjust="spacingAndGlyphs">t</text><text x="1387.0" y="824.7" font-size="28" fill="#6cbbff" stroke="#6cbbff" stroke-width="1.3" textLength="19.6" lengthAdjust="spacingAndGlyphs">0</text><text x="1421.0" y="824.7" font-size="28" fill="#6cbbff" stroke="#6cbbff" stroke-width="1.3" textLength="13.8" lengthAdjust="spacingAndGlyphs">1</text><text x="1444.8" y="824.7" font-size="29" fill="#6cbbff" stroke="#6cbbff" stroke-width="1.3" textLength="8.8" lengthAdjust="spacingAndGlyphs">.</text><text x="1465.4" y="824.7" font-size="29" fill="#6cbbff" stroke="#6cbbff" stroke-width="1.3" textLength="17.0" lengthAdjust="spacingAndGlyphs">c</text><text x="1490.5" y="824.7" font-size="29" fill="#6cbbff" stroke="#6cbbff" stroke-width="1.3" textLength="19.8" lengthAdjust="spacingAndGlyphs">n</text></g>
</svg>
</body></html>
